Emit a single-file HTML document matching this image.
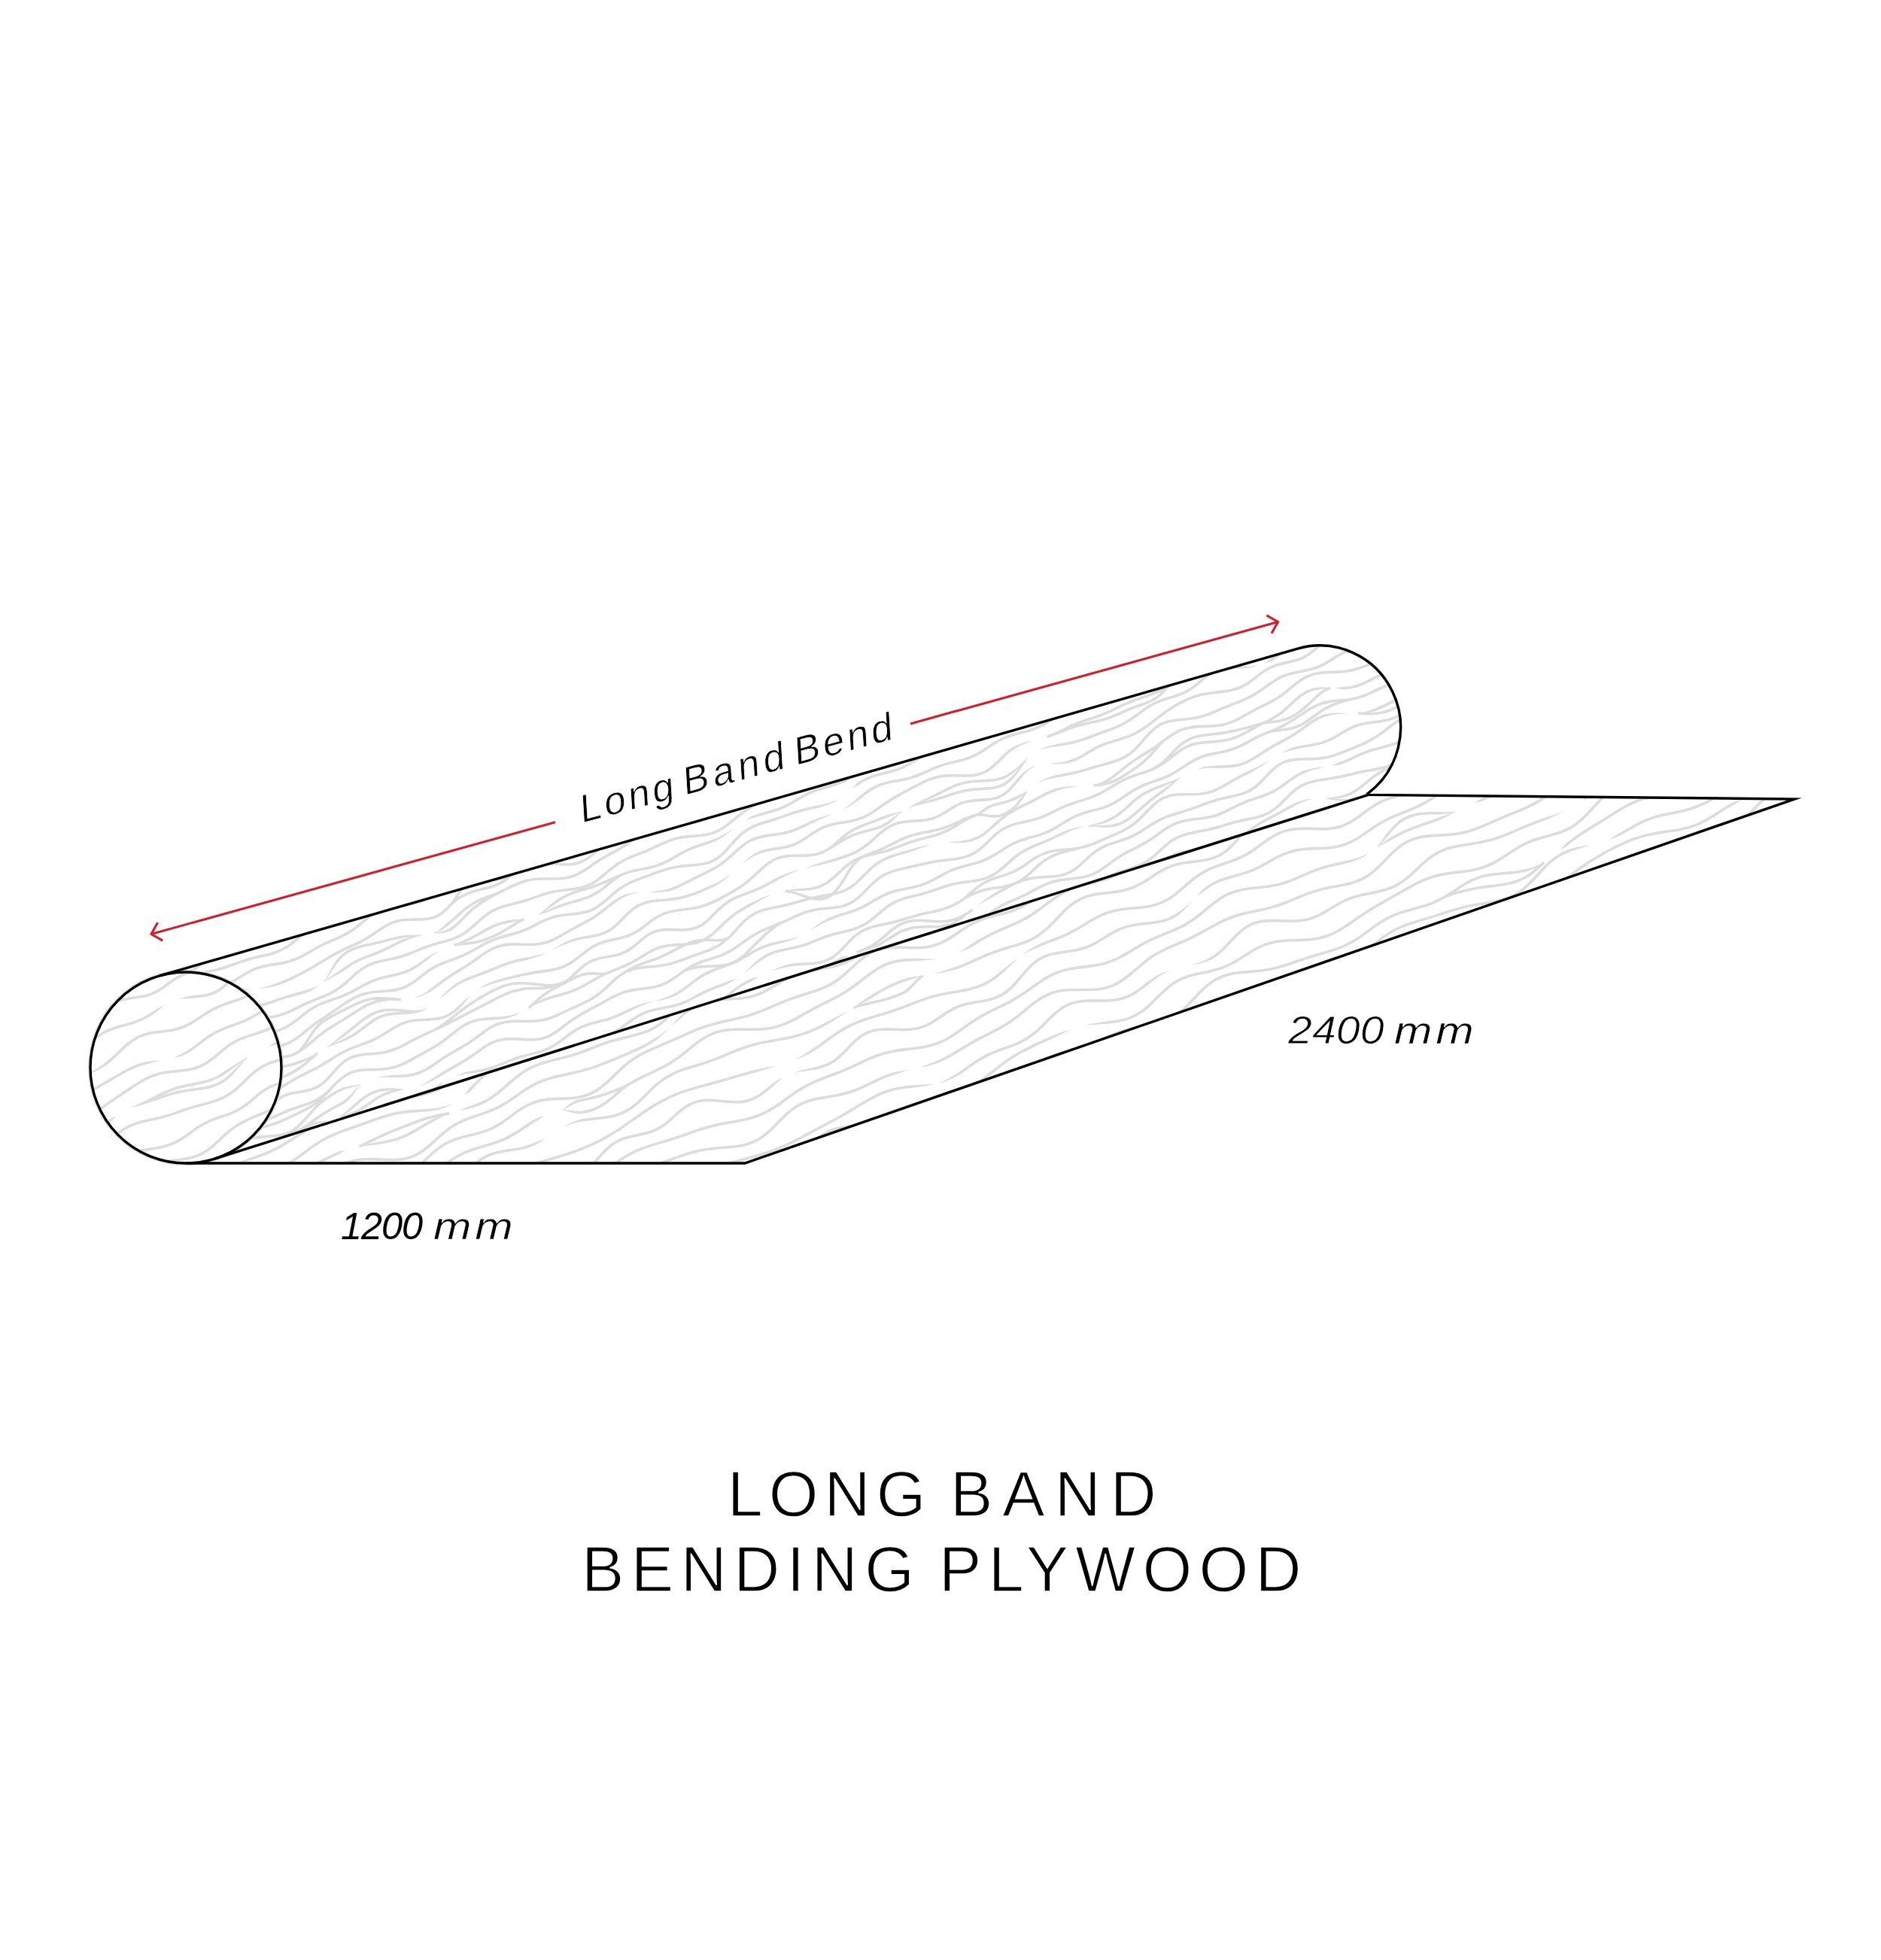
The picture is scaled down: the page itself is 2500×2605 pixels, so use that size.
<!DOCTYPE html>
<html><head><meta charset="utf-8"><style>
html,body{margin:0;padding:0;background:#fff;}
body{width:2500px;height:2605px;overflow:hidden;}
svg{display:block;}
text{font-family:"Liberation Sans",sans-serif;fill:#000;}
</style></head><body>
<svg width="2500" height="2605" viewBox="0 0 2500 2605">
<defs>
<clipPath id="cr"><path d="M211.9,1296.9L1724.7,862.1A107.5,109 0 0 1 1817.7,1054.8L1818.7,1056.4L285.3,1540.1A127,127 0 0 0 211.9,1296.9Z"/></clipPath>
<clipPath id="cs"><path d="M285.3,1540.1L1818.7,1056.4L2385,1062L990,1546L247,1546A127,127 0 0 0 285.3,1540.1Z"/></clipPath>
<clipPath id="cc"><circle cx="247" cy="1419" r="127"/></clipPath>
</defs>
<rect width="2500" height="2605" fill="#fff"/>
<g fill="#dcdcdc">
<path clip-path="url(#cr)" d="M239.2 1301.6l8.3-4.2 7.9-5.1 7.7-5.4 7.6-5.5 7.8-5.2-2.1-3-7.7 5.3-7.7 5.5-7.6 5.3-7.7 4.9-8.1 4.2zM249.6 1300.8l8.5-3.4 8.9-2.3 9.2-1.9 9.3-1.8 9.2-2.3 8.9-2.9 8.8-3.2 8.6-3.2 8.8-2.9 8.9-2.4 9.2-2 9.2-2.1 9.1-2.6 8.7-3.7 8.3-4.7 7.8-5.6 7.5-6 7.6-5.6 7.8-4.9-1.9-3.1-8 5-7.7 5.8-7.5 5.9-7.6 5.5-7.9 4.5-8.3 3.5-8.8 2.5-9.1 2.1-9.3 2-9.1 2.4-8.9 3-8.7 3.2-8.6 3.2-8.8 2.8-9 2.3-9.2 1.8-9.3 1.8-9.2 2.5-8.7 3.5zM295.2 1313.1l8.4-3.6 8.1-4.3 7.8-4.8 7.8-4.8 7.8-4.2 8.2-3.3 8.6-2.4 9.1-1.6 9.2-1.4 9.2-1.8 9-2.4 8.6-3.4 8.1-4.2 8-4.6 7.8-4.5 8-4.2 8.1-3.8 8.3-3.5 8.3-3.6 8.2-4.3 7.9-5 7.5-5.6-2.2-2.9-7.4 5.6-7.6 4.8-7.9 4.1-8.2 3.6-8.4 3.6-8.2 3.8-8.1 4.2-7.9 4.6-7.9 4.5-7.9 4.1-8.3 3.3-8.6 2.3-9 1.7-9.2 1.4-9.3 1.7-8.9 2.5-8.6 3.4-8.1 4.4-7.8 4.8-7.8 4.8-7.9 4.2-8.2 3.5zM477.2 1231.7l7.3-6 7.4-5.8 7.5-5 8-3.8 8.6-2.6 9-1.7 9.4-1.3 9.4-1.4 9.2-2.1 8.8-2.9 8.5-3.6 8.2-4-1.5-3.3-8.2 4-8.3 3.5-8.5 2.9-8.9 2-9.2 1.4-9.5 1.2-9.3 1.8-9 2.7-8.5 4.1-7.9 5.2-7.4 5.9-7.4 6.1zM303.6 1322.2l8.8-2.9 9.2-1.6 9.6-2.5 0-.3-10-.7-9.7 1.6-9 3zM343.7 1314.1l9.4-.8 9.2-1.7 8.9-2.5 8.5-3.3 8.3-3.8 8.2-4 8.1-4.2 8-4.4 8-4.6 7.8-4.8 7.8-4.7 7.9-4.6 7.9-4.2 8.2-3.9 8.2-3.7 8.3-3.8 8.2-4.3 7.9-4.7 7.7-5.1 7.6-5.2 7.7-4.7 8-3.6 8.6-2.4 9.2-1 9.7-.2 9.9-.1 9.7-1 9.1-2.6 8.3-4.7 7.4-6.4 6.8-7.4-2.7-2.5-6.6 7.3-7 6.1-7.6 4.2-8.4 2.4-9.2 1-9.8 .1-9.9 .2-9.6 1.1-9.1 2.5-8.5 3.8-7.9 4.9-7.7 5.2-7.6 5.1-7.8 4.6-8 4.1-8.2 3.8-8.2 3.7-8.3 4-8.1 4.3-7.9 4.6-7.9 4.7-7.8 4.8-7.8 4.6-8 4.4-8 4.1-8.1 3.9-8.2 3.7-8.4 3.4-8.4 3.2-8.7 2.7-9.1 2.1zM602 1201.9l6-4.9 6.4-4 6.6-3.2 7-2.7 7.1-2.2 7.4-1.9 7.6-1.8 7.4-2.2 7.2-3 6.8-4.1 6.3-4.9 6-5.2-2.4-2.7-5.9 5.2-6.1 4.7-6.3 3.8-6.8 2.8-7.2 2.2-7.4 1.7-7.5 1.9-7.4 2.3-7.2 2.8-7 3.4-6.7 4.1-6.2 5.1zM602.4 1201.5l5-7.6 5-7.3 5.3-6 6-4.2 6.7-2.4 7.5-1.2 7.9-.6 8-.6 8-1 7.7-1.9 7.3-2.9 6.7-3.8-1.8-3.1-6.5 3.7-6.8 2.7-7.2 1.7-7.7 1-8 .6-8 .6-8 1.3-7.5 2.7-6.7 4.7-5.8 6.5-5.1 7.5-5 7.6zM683.6 1161.9l6.1-4.1 6.2-3.6 6.4-2.9 6.8-2 7.3-.9 7.7 .1 8.1 .7 8.4 .9 8.3 .7 8.1 0 7.7-1.1 7.3-2.1 6.8-3.3 6.3-4.2 6-4.9 5.7-5.3 5.6-5.4 5.7-5.2 5.6-5 5.9-4.7 5.9-4.3 6.1-4 6.3-3.5-1.7-3.2-6.4 3.6-6.3 4.1-6.1 4.5-6 4.7-5.8 5.1-5.6 5.3-5.6 5.4-5.6 5.2-5.8 4.7-6 4-6.3 3-6.7 2-7.3 1-7.7 0-8.1-.7-8.3-.9-8.3-.7-8.1-.1-7.8 1-7.3 2.1-6.8 3.1-6.5 3.8-6.2 4.1zM333.2 1340.3l9.6-1.5 9.3-2.3 9-2.8 8.8-3.1 8.9-3 8.9-2.6 9.1-2.5 9.1-2.6 8.8-3.4 7.7-5.8-.2-.2-8.8 2.9-8.7 3.1-8.9 2.5-9.1 2.5-9 2.7-8.9 3-8.8 3.1-8.9 2.7-9 2.2-9.4 1.6zM430.4 1304.8l6.5-3.3 6.5-3.4 6.5-3.6 6.4-3.7 6.1-4.1 6.1-4.1 6.3-3.5 6.4-3 6.7-2.6 6.8-2.6 6.8-2.6 6.8-2.9 6.6-3.2 6.5-3.3 6.4-3.3 6.6-3.1 6.5-2.9 6.7-2.6 7-2.2 7.2-1.9 0-.2-7.5 .8-7.3 1.4-7.1 1.9-7 2.4-6.6 3.2-6.5 3.3-6.5 3.3-6.5 3.1-6.6 2.8-6.8 2.7-6.8 2.5-6.8 2.7-6.7 3.1-6.5 3.7-6.2 4.1-6.1 4.1-6 4.2-6 4.2-6.1 4.1-6 4.3zM430.4 1304.8l5.5-6.3 5.1-7.4 5-7.3 4.9-6.8 5.2-5.6 5.8-4.3 6.2-3.3 6.6-2.5 6.9-2 7.1-1.7 7.3-1.5 7.2-1.7 7.2-1.8 7.1-1.8 7.1-1.7 7.2-1.6 7.2-1.5 7.5-1.1 7.6-.9 7.7-1 0-.3-7.8-.1-7.7 .1-7.7 .4-7.5 .9-7.3 1.5-7.2 1.8-7.1 1.9-7.1 1.7-7.2 1.6-7.2 1.6-7.3 1.7-7.1 2.1-7 2.7-6.7 3.5-6.2 4.6-5.6 6.1-4.8 7.2-4.3 7.9-4.3 7.8-4.5 6.9zM576.8 1240.6l7.7-.1 7.7-1 7.2-2.6 6.3-4.5 5.9-5.3 5.6-5.6 5.5-5.6 5.6-5.3 5.8-4.7 6-4.3 6.2-3.9 6.3-3.6 6.4-3.5 6.5-3.4-1.6-3.2-6.6 3.4-6.4 3.5-6.5 3.7-6.3 4-6.2 4.4-6 4.9-5.7 5.4-5.6 5.6-5.5 5.6-5.6 5.1-5.9 4.2-6.3 3-7 1.9-7.5 1.6zM576.9 1240.5l6.9-2.6 6.5-4 6.2-4.5 5.9-4.9 5.8-5.1 5.7-5.1 5.8-5 5.9-4.4 6.2-3.8 6.4-3.2 6.6-2.8 6.8-2.6 6.9-2.5 6.9-2.7-1.4-3.3-6.7 2.7-6.9 2.5-6.9 2.5-6.8 2.9-6.7 3.4-6.4 3.9-6.2 4.6-5.8 5.1-5.8 5.1-5.7 5.1-5.9 4.8-5.6 5.1-5.7 4.7-6.2 3.9zM665.5 1187.2l8.4-4.1 8.5-4.1 8.5-3.8 8.7-2.9 9.2-1.8 9.8-.7 10.1 0 10.3 0 10.2-.7 9.7-1.9 9-3.5 8.5-4.6 8-5.4 7.9-5.4 7.9-5.2 8.2-4.7 8.3-4.5 8.3-4.6 8.1-5 8-5.5 7.7-5.8-2.1-2.9-7.7 5.7-7.8 5.5-8.1 4.9-8.2 4.6-8.3 4.5-8.2 4.8-8.1 5.2-7.9 5.4-7.9 5.3-8.1 4.5-8.5 3.2-9.2 1.8-9.8 .7-10.2 0-10.3 0-10 .7-9.7 1.9-9.1 3.1-8.8 3.8-8.4 4.2-8.5 4.1zM900.5 1096.7l9.9-.3 9.7-1 9.4-2 8.8-3.1 8.5-3.8 8.2-4.2-1.6-3.2-8.2 4.1-8.2 3.8-8.5 2.9-8.9 2-9.4 .9-9.8 .3zM343.2 1355.9l9.4-1.1 9.3-1.3 9.1-2 8.8-2.9 8.4-3.7 8.1-4 8-4 8.2-3.7 8.3-3.4 8.4-3.2 8.4-3.6 8.2-4.3 7.7-5.2 7.4-6 7.1-6.5 7-6.3 7.2-5.5 7.6-4.5 8.2-3.3 8.6-2.3 9-1.8 9-1.9 9-2.3 8.6-2.9 8.5-3.4 8.3-3.5 8.3-3.2 8.5-2.9 8.7-2.4 8.8-2.3 8.8-2.7 8.5-3.6 8.1-4.7 7.5-5.7 7.2-6.3 7-6.4 7.2-5.9-2.3-2.8-7.3 5.9-7 6.5-7.1 6.2-7.2 5.5-7.7 4.5-8.1 3.4-8.5 2.6-8.8 2.3-8.8 2.5-8.7 2.9-8.5 3.3-8.3 3.5-8.3 3.3-8.5 2.8-8.7 2.3-9 1.8-9 1.9-9 2.4-8.5 3.5-8.1 4.7-7.5 5.8-7.2 6.4-7 6.3-7.1 5.9-7.5 5-7.8 4.1-8.2 3.5-8.4 3.3-8.4 3.4-8.3 3.7-8.1 4.1-8.1 3.9-8.1 3.6-8.4 2.8-8.8 1.9-9.2 1.3-9.3 1.1zM647.5 1217.3l7.5-4.9 8-3.7 8.4-2.8 8.8-2.3 8.9-2.2 8.8-2.5 8.7-2.8 8.5-3 8.6-2.9 8.6-2.4 9-1.7 9.2-1.3 9.4-1 9.3-1.4 9-2.4 8.6-3.7 7.9-4.8-1.9-3.1-7.7 4.7-8 3.5-8.6 2.2-9.1 1.4-9.4 1.1-9.3 1.2-9.2 1.8-8.9 2.5-8.6 2.9-8.6 3-8.5 2.8-8.7 2.4-8.9 2.2-8.9 2.3-8.7 2.9-8.4 4-7.8 5zM794.8 1171.3l7.6-5.9 7.3-6.3 7.4-5.9 7.6-5.3 8-4.3 8.4-3.6 8.5-3.4 8.7-3.4 8.5-3.7 8.3-3.9 8.4-3.9 8.4-3.4 8.7-2.5 9.2-1.6 9.6-1 9.7-.7 9.7-1.3 9.3-2.4 8.7-3.8 8.1-5 7.6-5.9 7.4-6.2 7.5-5.9 7.6-5.3 7.9-4.7 8.1-4.5 8.1-4.6-1.8-3.1-8.1 4.5-8.1 4.6-8 4.8-7.9 5.4-7.5 6-7.4 6.2-7.5 5.7-7.7 4.9-8.2 3.5-8.8 2.3-9.4 1.2-9.7 .7-9.7 1-9.5 1.7-9.1 2.6-8.7 3.5-8.4 3.9-8.3 4-8.4 3.6-8.6 3.4-8.6 3.3-8.6 3.8-8.3 4.5-7.9 5.4-7.5 6.1-7.3 6.2-7.5 5.9zM354.7 1375.6l8.9-2.2 8.8-2.8 8.5-3.7 7.9-4.8 7.6-5.6 7.3-5.9 7.3-5.6 7.6-4.9 7.9-4 8.3-3.2 8.5-2.9 8.6-3 8.5-3.4 8.2-3.9 8-4.4 8-4.4 7.9-4 8.3-3.2 8.6-2.6 8.9-2 9-2 8.9-2.5 8.6-3.4 8.1-4.4 7.7-5.2 7.3-5.7 7.2-5.8 7.4-5.4-.2-.2-8.2 4-7.9 4.9-7.6 5.3-7.6 5-7.8 4.3-8.2 3.2-8.6 2.4-8.9 2-9 2-8.9 2.7-8.5 3.3-8.2 4.1-8 4.5-7.9 4.3-8 3.8-8.3 3.4-8.5 2.9-8.7 2.9-8.5 3.3-8.2 4.2-7.8 5.1-7.5 5.7-7.3 5.8-7.4 5.5-7.6 4.6-8 3.6-8.5 2.7-8.9 2.1zM603.5 1256l9.7-2.4 9.5-3.1 9-4.4 8.7-4.9 8.6-4.9 8.7-4.2 9.2-3.3 9.6-2.2 9.9-2.2 9.9-2.7-.1-.2-10.2 .6-10.2 1-9.9 2.3-9.6 3.3-9 4.4-8.7 4.9-8.6 4.9-8.8 4.3-8.8 4.3-9 4.2zM603.7 1257.6l7.2-.9 7.4-.6 7.4-.8 7.3-1.2 7.1-1.8 6.8-2.3 6.7-2.7 6.5-2.9 6.3-3.2 6.3-3.6 6.1-3.8 6-3.8 6-3.7 6.3-3.1-1.6-3.2-6.4 3.2-6.2 3.7-6 3.9-6.1 3.7-6.1 3.5-6.2 3.2-6.4 2.8-6.4 2.6-6.6 2.3-6.8 1.7-7 1.1-7.3 .8-7.5 .6-7.3 1zM715.4 1215.9l6.9-2 6.8-2.2 6.7-2.4 6.7-2.5 6.7-2.5 6.7-2.2 6.9-1.9 7-2 6.9-2.1 6.9-2.6 6.6-3.1 6.3-3.8 6.1-4.3 5.9-4.7 5.7-4.7 5.7-4.4 6.1-3.9-1.9-3-6.2 3.9-6 4.6-5.7 4.7-5.8 4.6-5.8 4.2-6.1 3.6-6.3 3-6.6 2.4-6.8 2.1-7 2-6.9 2-6.9 2.2-6.8 2.5-6.6 2.9-6.4 3.1-6.5 3.1-6.5 3.2zM715.4 1215.9l6.5-3.2 6.2-4.1 6.1-4.3 5.9-4.3 5.9-4 6.2-3.4 6.4-2.8 6.6-2.4 6.9-2.1 6.9-2 6.9-2.1 6.9-2.4 6.7-2.7 6.6-2.9 6.5-2.9 6.5-2.8 6.6-2.7-1.3-3.3-6.7 2.7-6.6 2.8-6.5 3-6.5 2.8-6.6 2.7-6.7 2.3-6.8 2.1-7 2-6.9 2.1-6.9 2.4-6.6 3-6.5 3.6-6.1 4.1-5.8 4.6-5.6 4.9-5.6 4.8-5.8 4.3zM825.7 1164.8l8.7-3.5 9-2.4 9.5-1.9 9.5-1.8 9.4-2.4 9.1-3.3 8.6-4.2 8.3-4.8 8.3-4.7 8.3-4.3 8.6-3.6 8.9-3.1 9-2.9 9-3.3 8.5-4.6 7.9-5.4 7.5-6.2-.1-.3-8.3 5.1-8.3 4.4-8.6 3.7-8.8 3.2-9 2.9-9 3.1-8.8 3.7-8.6 4.4-8.2 4.8-8.2 4.7-8.4 4.1-8.7 3.2-9.2 2.3-9.4 1.8-9.6 1.9-9.3 2.5-8.9 3.6zM991.8 1090.2l8.6-2.7 8.5-2.7 8.8-2.4 8.8-2.4 8.8-2.9 8.5-3.5 8.1-4.3 7.9-4.6 7.8-4.6 8-4.1 8.2-3.4 8.6-2.7 8.7-2.5 8.8-2.6 8.7-3.2 8.2-4.1 7.9-4.9 7.7-5.2-2-3-7.6 5.2-7.7 4.7-8 4-8.3 3.1-8.7 2.6-8.8 2.4-8.7 2.8-8.5 3.5-8.2 4.2-7.9 4.7-7.8 4.6-8 4.1-8.2 3.5-8.5 2.7-8.8 2.4-8.9 2.5-8.5 3.4-7.7 5.2zM357.7 1393.2l9.9-.5 9.5-1.9 8.8-3.5 8.1-5 7.6-5.8 7.4-6 7.4-5.9 7.6-5.5 7.7-5.2 7.8-5.1 7.8-5.2 7.7-5.3 7.7-5.2 7.8-4.7 8.1-3.8 8.6-2.7 9.1-1.6 9.5-.8 9.7-.7-.2-3.6-9.8 .7-9.7 .8-9.5 1.7-9 2.8-8.5 4-8.1 4.9-7.7 5.2-7.8 5.3-7.7 5.2-7.8 5.1-7.8 5.2-7.6 5.6-7.5 6-7.4 6-7.4 5.6-7.8 4.7-8.2 3.3-8.9 1.8-9.6 .5zM515.6 1318.8l9.5-1.1 9.1-2.3 8.6-3.7 8-5 7.5-5.6 7.3-5.8 7.5-5.2 7.7-4.5 8.1-3.6 8.5-3.2 8.5-3.1 8.5-3.4 8.3-3.9 8-4.3 7.9-4.6 8-4.2 8.1-3.7 8.4-3.1 8.7-2.5 8.8-2.4 8.8-2.6 8.6-3.2 8.4-3.8 8.1-4.2 8-4 8.2-3.5 8.5-2.6 9-1.6 9.4-1-.4-3.6-9.5 1.1-9.3 1.6-8.9 2.7-8.5 3.6-8.2 4.1-8 4.1-8.2 3.7-8.3 3.2-8.7 2.5-8.8 2.4-8.8 2.6-8.7 3.1-8.3 3.8-8.1 4.4-7.9 4.5-7.9 4.3-8.1 3.8-8.4 3.4-8.5 3-8.5 3.2-8.4 3.8-8.1 4.6-7.6 5.5-7.4 5.7-7.4 5.6-7.6 4.7-8 3.5-8.7 2.1-9.2 1.2zM757.5 1217.1l9.5-.9 9.4-1.6 8.9-2.7 8.3-4.2 7.7-5.4 7.3-6.2 7.1-6.2 7.2-5.9 7.5-5 7.8-4.2 8.2-3.5 8.4-3.2 8.5-3 8.5-3.1 8.5-3 8.5-2.7 8.8-2 9.1-1.4 9.4-.9 9.5-.7 9.5-1.3 9-2.5 8.5-4.1 7.6-5.8 7-7 6.6-7.5 6.6-7.4 6.8-6.5 7.3-5.3 7.8-4 8.3-3.2 8.6-2.7 8.7-2.6 8.7-2.8 8.5-3 8.5-3 8.6-2.7 8.7-2.4 8.9-2 9-2 8.9-2.7 8.4-3.6 7.8-4.7-.2-.3-8.3 3.5-8.5 2.6-8.9 1.9-8.9 1.8-9 2-8.9 2.4-8.7 2.8-8.6 3-8.5 3-8.6 2.8-8.7 2.6-8.7 2.7-8.6 3.3-8.2 4.3-7.7 5.5-7.1 6.8-6.7 7.5-6.5 7.5-6.7 6.7-7.2 5.4-7.8 3.9-8.5 2.3-9.1 1.2-9.5 .8-9.5 .8-9.4 1.4-9 2.2-8.8 2.7-8.5 3-8.5 3.1-8.5 3.1-8.5 3.2-8.4 3.6-8.2 4.3-7.7 5.2-7.4 6-7.1 6.3-7.2 6-7.3 5.2-7.9 3.9-8.4 2.6-9 1.5-9.3 .9zM1133.1 1047.7l8.4-4.4 7.5-4.9 8-3.7 8.5-2.8 8.9-2.1 9-2.2 8.9-2.6 8.5-3.5 8.2-4.3 7.9-4.7 7.8-4.7 8-4.1 8.3-3.4-1.4-3.3-8.4 3.4-8.2 4.3-7.9 4.7-7.9 4.7-7.9 4.1-8.2 3.4-8.6 2.5-9 2.2-9 2.2-8.8 2.8-8.4 4-7.9 5.1-6.5 7.1zM360.2 1408.2l9.7-.5 9.5-1.2 9.1-2.4 8.4-3.8-1.5-3.3-8.1 3.7-8.6 2.3-9.1 1.1-9.6 .5zM397.2 1400.1l12.8-9.2 12.2-10.6 12.5-9.6 13-8.3 13.3-8 13.1-8.5 13.1-7.9 14-5.4 15.4-2.7 16.5-1.3 0-.3-16.6-.7-16.2 1.5-14.7 5.6-13.4 8.2-13.1 8.5-13.3 8-13.2 8.3-12.7 9.8-12.1 10.6-12.7 9.1zM397.5 1399.9l5.5-5.8 5.1-7.2 4.8-7.4 4.8-7.1 5-6.3 5.5-5.3 5.9-4.1 6.3-3.7 6.4-3.4 6.6-3.3 6.5-3.3 6.5-3.3 6.6-3.1 6.6-2.9 6.7-2.4 7.1-1.7 7.3-.9 7.8-.2 8 .5 8.3 .8 8.2 .5 .2-3.6-8.1-.5-8.3-.8-8.3-.5-8 .2-7.8 .9-7.4 1.8-7 2.5-6.8 3-6.7 3.2-6.5 3.3-6.6 3.3-6.5 3.3-6.5 3.5-6.5 3.8-6.3 4.4-5.8 5.5-5.3 6.6-4.9 7.3-4.8 7.4-4.8 6.9-5.4 5.6zM551.5 1326.3l8.9-2.4 8.4-4 8-5 7.6-5.6 7.5-5.6 7.6-5.2 7.8-4.8 7.9-4.8 7.8-4.9 7.8-5.3 7.5-5.5 7.6-5.3 7.7-4.6 8.2-3.5 8.7-2.1 9.3-.9 9.9 .1 10.1 .4 10-.1 9.7-1.1 9.2-2.4 8.6-3.6 8.1-4.4 8-4.6 8-4.5 8-4.4 8.1-4.2 8.1-4.5 7.9-5 7.6-5.6 7.4-5.9 7.4-5.8 7.5-5.2 7.8-4.4 8.4-3.1 9.2-2 0-.3-9.5 .7-9.1 2.2-8.6 3.8-7.8 5.4-7.5 5.9-7.4 5.9-7.4 5.4-7.7 4.9-8 4.4-8.1 4.3-8.1 4.3-8 4.6-7.9 4.6-8 4.2-8.2 3.5-8.7 2.3-9.2 1-9.8 .1-10-.4-10.1-.1-9.8 .9-9.3 2.3-8.6 3.7-8.1 4.8-7.6 5.4-7.6 5.5-7.6 5.2-7.8 4.8-7.9 4.8-7.9 4.9-7.7 5.3-7.6 5.6-7.4 5.7-7.3 5.6-7.7 4.7-8.4 3.7zM863.1 1185.9l9.7 .3 9.5-.6 9.3-1.7 8.6-3.2 8.3-3.9 8.1-4.2 8-4.2 8.1-4 8.2-3.9 8.1-4.2 7.9-4.7 7.7-5.6 7.2-6.2 7.1-6.5 7.1-6.2 7.2-5.5 7.8-4.2 8.3-2.9 8.9-1.8 9.2-1.3 9.3-1.3 9.2-1.9 8.9-2.7 8.5-3.4 8.2-3.9 8.1-3.9 8.1-4 8.2-3.7 8.3-3.7-.1-.3-8.8 2.4-8.6 2.8-8.5 3.3-8.2 3.9-8.2 3.8-8.2 3.3-8.6 2.6-8.9 1.8-9.2 1.3-9.4 1.3-9.2 2-8.8 3.1-8.2 4.4-7.6 5.7-7.2 6.3-7 6.5-7.2 6.1-7.3 5.3-7.8 4.7-7.9 4.1-8.2 3.9-8.1 4-8.1 4.2-8 4.2-8.1 3.8-8.3 3.1-8.6 2.5-9.2 1.5-9.7 1.1zM1120.2 1076.1l8.3-4 7.9-5 7.6-5.6 7.3-5.9 7.5-5.2 7.8-4.2 8.3-3 8.8-2.1 9.1-1.7 9.2-1.7 9-2.3 8.8-2.9 8.4-3.6 8.3-3.7 8.3-3.6 8.4-3 8.7-2.5 8.9-2.1 9-2.2 8.8-2.8 8.5-3.7 8.1-4.6 7.8-5.1 7.6-5.1 7.7-4.7 8-3.8 8.4-3 8.8-2.4-.9-3.4-8.9 2.4-8.7 3.1-8.4 4-7.9 4.8-7.7 5.1-7.7 5.1-7.8 4.4-8.1 3.5-8.6 2.7-8.8 2.2-9 2.2-8.9 2.5-8.7 3.1-8.4 3.6-8.2 3.7-8.3 3.5-8.5 2.9-8.8 2.2-9 1.7-9.3 1.6-9 2.2-8.8 3.2-8.2 4.4-7.8 5.4-7.3 6-7 6.3-7.2 5.7-7.5 5.2zM1353.5 976.6l9.1-2.2 9.1-2.7 8.8-3.4 8.4-4.2 8.1-4.8 8-4.7 8.2-4.3-1.7-3.2-8.3 4.3-8 4.8-8 4.7-8.2 4.1-8.5 3.3-8.8 2.6-9.1 2.2zM312.7 1446.2l11.5-3.3 10.9-5.1 10.2-6.2 10.4-5.4 11-4.1 11.5-3 11.7-2.9 11.5-3.8 10.6-5.7 9.9-6.7-.1-.3-10.8 5.1-10.9 4.2-11.2 3.7-11.6 2.9-11.7 3.1-11.3 4.2-10.7 5.5-10.3 6.3-10 6.2-10.7 5.1zM312.6 1447.9l8.1 .3 8.4 .5 8.2-.2 7.8-1.2 7.3-2.3 6.9-3.3 6.6-3.3 6.7-3.2 6.7-3.1 6.7-3.3 6.7-3.6 6.4-4.1 6.2-4.6 6-5.1 5.8-5.2 5.9-5-2.3-2.7-5.9 5-5.9 5.2-5.8 5-6 4.4-6.3 4-6.4 3.5-6.6 3.2-6.8 3.1-6.7 3.2-6.6 3.4-6.6 3.1-6.8 2.2-7.3 1.1-7.8 .2-8.3-.5-8.2-.3zM435.2 1392l6.6-2.6 6.7-2.3 6.7-2.4 6.7-2.7 6.4-3.4 6.2-3.9 5.9-4.3 5.8-4.6 5.8-4.4 5.8-4 6.1-3.4 6.3-2.5 6.8-1.7 7.2-.9 7.4-.4 7.7-.2 7.6-.7 7.4-1.4 6.9-2.3 6.3-3.3-.1-.3-6.7 2.3-6.9 1.4-7.2 .6-7.5 .1-7.6 .2-7.7 .4-7.5 1-7.2 1.7-6.8 2.8-6.4 3.5-6.1 4.2-5.8 4.5-5.8 4.5-5.8 4.3-5.9 3.7-6.2 3.3-6.3 3.2-6.3 3.1-6.4 3.1-6.3 3.5zM435.2 1392l6.2-3.8 6.1-4 6.1-4.1 6-4.2 5.8-4.6 5.8-4.6 5.7-4.6 5.8-4.4 5.8-4.2 6-3.6 6.2-2.9 6.6-1.9 7.1-.9 7.5-.2 7.8 .5 8 .7 8.1 .2 7.8-.5 7.3-1.5 6.6-2.8-.1-.3-6.8 1.8-7.2 .6-7.5-.2-7.9-.8-8-.8-8-.5-7.9 .2-7.5 1-7.2 2.1-6.6 3-6.3 3.8-6 4.3-5.8 4.5-5.8 4.6-5.7 4.6-5.8 4.6-5.6 4.7-5.6 4.7-5.6 4.6-5.6 4.6zM585 1327.5l7.9-6.6 7.8-6.1 8-5.3 8.3-4.4 8.6-3.7 9-3.4 8.9-3.3 8.9-3.5 8.8-3.7 8.9-3.4 9-3 9.2-2.5 9.4-2.1 9.4-2.6 9.2-3.2 8.8-4-.1-.2-9.2 2.6-9.3 2.1-9.6 1.8-9.5 2.1-9.4 2.5-9.1 3.1-9 3.5-8.8 3.6-8.9 3.5-8.9 3.4-9 3.3-8.9 3.8-8.6 4.7-7.9 6-7.2 7.1-6.9 7.6zM734.5 1262.3l8.4-3.7 8.5-3.6 8.5-2.9 8.8-2.5 9.1-1.8 9.3-1.6 9.3-2 8.9-3.3 8.3-4.7 7.6-6.2 7.1-7 6.9-7.1 7.1-6.2 7.6-4.9 8.2-3.4 8.9-1.9 9.4-1 9.7-.8 9.7-1 9.4-1.7 9.1-2.4 8.8-3 8.6-3.4 8.5-3.6 8.5-3.9 8-4.7 7.7-5.4 7.1-6.4-.2-.2-7.9 5.2-8 4.5-8.3 3.9-8.3 3.7-8.4 3.6-8.5 3.3-8.7 2.9-8.8 2.4-9.2 1.6-9.4 1.1-9.7 .7-9.7 1.1-9.4 2-8.8 3.6-8.1 5.2-7.4 6.5-7 7.2-6.9 6.9-7.2 5.8-7.8 4.5-8.4 3-9 2-9.3 1.6-9.3 1.8-9 2.7-8.5 3.8-8.1 4.6-7.9 4.8zM987.5 1147.6l7.7-5.5 7.8-4.6 8.2-3.3 8.6-2.4 9.1-1.6 9.3-1.4 9.2-1.8 8.9-3 8.4-4 7.9-5 7.6-5.3 7.6-4.8 8-4 8.4-2.9 8.9-1.9 9.2-1.4 9.3-1.6 9-2.3 8.7-3.4 8.2-4.3 7.8-5.1 7.6-5.4 7.6-5.3 7.7-4.9 7.8-4.5 8-4.4 8-4.2 8.1-4.2 8.1-4.1 8.2-3.5 8.4-2.8 9-1.6 9.4-.6 9.8 .1 10.1 .2 9.9-.4 9.4-1.8 8.8-3.6 7.9-5.3 7.2-6.6 6.9-6.9 6.9-6.5 7.3-5.6 7.6-4.6 8.2-3.6 8.7-3-.1-.3-9.1 1.8-8.8 2.8-8.4 4-7.7 5.7-7.1 6.7-6.9 6.9-7 6.3-7.4 5.1-8 3.3-8.8 1.7-9.5 .3-10-.2-10-.1-9.8 .6-9.3 1.8-8.9 2.8-8.5 3.7-8.2 4.1-8 4.2-8.1 4.3-8 4.3-8 4.6-7.8 5-7.6 5.3-7.6 5.4-7.6 5-7.9 4.2-8.3 3.1-8.7 2.2-9.1 1.6-9.3 1.5-9.2 2-8.8 3-8.3 4.1-7.9 5-7.6 5.3-7.7 4.8-7.9 3.9-8.5 2.8-8.9 1.8-9.3 1.3-9.3 1.7-9 2.6-8.3 4.2-7.5 5.6-6.9 6.7zM1391.4 979.3l17.1-6.3 16.6-7.2 16.8-6.4 17.4-5.5 16.9-6.8 16.3-8 16.6-7.1 17.3-5.6 17-7.1 15-11.6-2.2-2.8-14.6 11.3-16.5 6.8-17.3 5.6-16.8 7.2-16.2 8-16.7 6.7-17.3 5.5-17.1 6.5-16.1 8.5-16.3 8zM1392 980.8l6.9-2.3 6.8-2.5 6.8-2.6 6.8-2.6 6.7-2.4 6.9-2.1 7.1-1.8 7.1-1.7 7.2-1.5 7.3-1.7 7.1-2 7-2.3 6.8-2.7 6.7-2.9 6.6-2.9 6.6-2.9 6.7-2.6 6.8-2.4 7-2.4 6.8-2.9 6.5-3.6 6.2-4.6 5.7-5.4 5.4-6.2 5.2-6.4-2.8-2.2-5.2 6.3-5.2 6-5.4 5.2-5.8 4.2-6.2 3.5-6.5 2.8-6.9 2.3-6.8 2.4-6.8 2.7-6.7 2.9-6.7 2.9-6.6 2.9-6.7 2.6-6.8 2.3-6.9 1.9-7.2 1.7-7.2 1.5-7.2 1.7-7.1 1.8-7.1 2.2-6.9 2.4-6.8 2.6-6.7 2.7-6.8 2.4-6.9 2.3zM355.4 1456.8l8.4-3.6 8.1-4.6 7.9-4.9 7.7-4.9 7.9-4.6 8-4.1 8.2-4 8.2-4.2 8.1-4.4 7.9-4.8 7.8-5 7.7-4.7 8-4.3 8.2-3.7 8.4-3.2 8.6-3.1 8.6-3.3 8.4-3.8 8.1-4.5 7.8-5 7.7-4.9 7.9-4.2 8.3-3.1 8.9-1.8 9.4-.9 9.7-.3 9.8-.8 9.3-1.9 8.8-3.6 8-5.3 7.2-6.6 6.4-7.6 6.3-7.6-.2-.2-7.6 6.3-7.3 6.6-7.1 6.3-7.4 5-8.1 3.3-8.8 1.8-9.5 .7-9.7 .4-9.7 .8-9.4 2-8.7 3.3-8.3 4.3-7.8 5-7.8 4.9-7.8 4.4-8.2 3.7-8.4 3.2-8.6 3.1-8.6 3.3-8.4 3.8-8.2 4.4-7.9 4.8-7.7 4.9-7.8 4.8-8 4.3-8.1 4.1-8.2 4.1-8.1 4.2-8 4.6-7.9 4.9-7.7 5-7.8 4.4-8.3 3.5zM635.5 1315.1l8.2-3.9 8.6-3 8.7-2.4 8.9-2.3 9-2.3 8.9-2.2 9-2 9.1-1.8 9.3-1.5 9.4-1.3 9.3-1.5 9.2-2.2 8.8-3.3 8.2-4.5 7.8-5.5 7.4-5.9 7.4-5.7 7.6-4.9 8.1-3.7 8.6-2.6 9-2 9.1-2 9-2.6 8.6-3.7 8.1-4.9 7.6-5.7 7.4-5.7 7.6-5.2 7.9-4.1 8.4-2.9 9-1.8 9.3-1.2-.5-3.6-9.4 1.3-9.3 1.9-8.9 3-8.4 4.3-7.8 5.4-7.5 5.8-7.4 5.5-7.7 4.7-8.2 3.5-8.6 2.5-9.1 2-9.1 2-9 2.7-8.5 4-8 5-7.5 5.8-7.4 5.9-7.5 5.3-7.8 4.3-8.4 3.1-8.8 2.1-9.2 1.5-9.4 1.3-9.3 1.5-9.2 1.8-9.1 2.1-9 2.2-9 2.3-8.9 2.5-8.7 3.2-8.4 4-7.7 5.2zM908 1210.8l9.5-1.2 9.3-1.7 9-2.4 8.7-3.3 8.4-3.8 8.2-4.2 8-4.4 8-4.6 7.9-5 7.7-5.5 7.4-6.1 7.1-6.6 7-6.6 7.2-6 7.5-4.8 8.2-3.3 8.8-1.8 9.5-.5 9.9 0 9.9-.3 9.6-1.4 9-2.9 8.3-4.3-1.7-3.2-8 4.2-8.4 2.7-9.1 1.3-9.6 .3-10 0-9.8 .5-9.5 1.9-8.7 3.6-8 5.1-7.5 6.2-7.1 6.6-7 6.5-7.2 6-7.5 5.4-7.7 4.9-7.9 4.5-8 4.4-8.1 4.1-8.2 3.8-8.4 3.2-8.7 2.3-9.1 1.7-9.3 1.1zM1102.1 1130l6.4-3.8 6.2-4 6.3-3.8 6.3-3.5 6.5-2.9 6.8-2.5 7-2 7.1-1.9 7.2-2 7.1-2.3 6.9-3 6.5-4 5.8-5.1 5.4-5.6 5.4-5.3-.2-.2-6.3 4.2-6.1 4.8-6.1 4.3-6.1 3.7-6.5 2.8-6.9 2.3-7 1.9-7.2 1.9-7.1 2.1-7 2.5-6.8 3.1-6.6 3.6-6.3 3.9-6.2 4-6.3 3.8zM1102.3 1129.9l6-4.6 5.9-5.1 5.7-5 5.8-4.7 6.1-4.1 6.2-3.5 6.6-3 6.8-2.6 6.8-2.5 6.9-2.6 6.8-2.7 6.8-2.6 6.7-2.7 6.9-2.7 6.6-3.2-.1-.2-7.1 1.8-7.1 1.7-7.1 1.9-7 2.6-6.7 2.8-6.8 2.6-6.9 2.5-6.9 2.6-6.8 3.1-6.5 3.6-6.3 4.3-6 4.8-5.8 5.1-5.7 5-6 4.6zM1206.2 1074.5l6.9-2.4 7-1.9 7.1-1.8 7.1-1.6 7.2-1.6 7-2.1 7-2.3 6.9-2.3 6.9-2.3 6.9-2 7.1-1.7 7.3-1.1 7.5-.7 7.7-.5 7.7-.5 7.7-1 7.3-1.8 7-3 6.4-4.3 5.7-5.6 5.1-6.5 4.7-7 4.7-6.9 4.9-6.5-.3-.2-5.6 5.9-5.3 6.5-5.3 6.5-5.3 5.9-5.6 5.1-5.8 3.9-6.4 2.8-6.9 1.7-7.3 .9-7.7 .5-7.7 .5-7.7 .7-7.5 1.2-7.3 1.7-7.1 2.1-6.9 2.3-6.9 2.3-6.9 2.2-7 2.1-7 2.1-7 2.2-7 2.3-6.8 2.7-6.6 3.2zM1206.2 1074.5l6.7-3 6.7-2.9 6.7-2.7 6.7-2.7 6.8-2.7 6.6-3.2 6.5-3.2 6.5-3.3 6.5-3.1 6.6-2.7 6.8-2.2 7-1.5 7.4-1 7.6-.5 7.7-.3 7.8-.5 7.6-1 7.4-1.9 6.9-3 6.4-4.1 5.8-5.1 5.4-5.5 5.3-5.7 5.4-5.6-.2-.2-6 4.9-5.9 5.1-5.8 5-5.9 4.4-6.1 3.6-6.5 2.8-6.8 1.7-7.3 1-7.7 .5-7.7 .3-7.8 .5-7.6 1-7.4 1.7-7.1 2.2-6.8 2.8-6.6 3.2-6.5 3.3-6.5 3.2-6.5 3.1-6.5 3.2-6.6 3.2-6.5 3.3-6.3 3.5-6.3 3.8zM1381.7 996.7l8.7-2.5 9-1.4 9.3-1 9.3-1.5 9.1-2 8.9-2.5 8.7-2.9 8.6-3.2 8.5-3.1 8.6-3.1 8.5-3.2 8.5-3.5 8.2-4.2 7.9-4.8 7.7-5.4 7.5-5.6 7.5-5.2 7.8-4.5 8.1-3.6 8.5-3 8.7-2.6 8.7-2.9 8.5-3.8 8.1-4.8 7.5-5.7 7.3-6 7.3-5.7 7.6-4.6 8.2-3.2 8.9-1.7 9.4-.6 9.8-.5 9.8-1 9.2-2 0-.3-9.4 .7-9.7-.2-9.8-.3-9.8 .6-9.4 1.8-8.8 3.4-8 4.9-7.5 5.8-7.3 6.1-7.4 5.5-7.6 4.6-8.2 3.6-8.5 2.9-8.7 2.6-8.7 3-8.5 3.8-8 4.6-7.7 5.4-7.5 5.5-7.5 5.3-7.7 4.8-8 4-8.3 3.5-8.5 3.1-8.5 3.1-8.6 3.1-8.5 3.2-8.5 2.9-8.7 2.4-9 1.9-9.2 1.6-9.2 1.9-9 2.5-8.3 3.7zM1681 881.7l8.9-2.7 7.9-5.1 7.6-5.4 7.5-5.4-2-2.9-7.6 5.3-7.6 5.4-7.6 5-7.2 5.6zM355.6 1473.7l7.4-5.9 7.4-5.4 7.9-4.3 8.4-2.8 9-1.8 9.4-1.5 9.2-2.2 8.8-3.7 7.9-5.5 7.2-7 6.7-7.7 6.7-7.5 6.9-6.3 7.6-4.6 8.4-2.8 9.1-1.5 9.5-.7 9.7-.8 9.5-1.5 9.2-2.5 8.6-3.4 8.3-4.1 8.2-4.4 8.1-4.2 8.1-4.1 8.3-3.8 8.4-3.8-1.5-3.2-8.4 3.7-8.3 3.9-8.3 4.1-8.1 4.2-8.1 4.4-8.1 4-8.4 3.3-8.7 2.4-9.2 1.4-9.5 .8-9.7 .7-9.6 1.6-9 3.1-8.2 4.9-7.4 6.7-6.8 7.6-6.6 7.6-6.9 6.7-7.4 5.1-8.1 3.4-8.8 2.1-9.3 1.5-9.3 1.9-9 3-8.3 4.5-7.7 5.6-7.5 6zM579.5 1369.9l17.1-8.2 16.9-8.7 16.9-8.7 17-8.7 16.7-8.9 17.1-7.5 18.8-3.6 20.4-.3 20-2.7 16.9-9.6-1.8-3.1-16.3 9.3-19.1 2.5-20.5 .4-19.4 3.6-17.7 7.7-16.8 9-16.9 8.7-16.9 8.7-16.9 8.7-17.1 8.2zM579.6 1369.8l6.2-3.7 5.9-4.1 5.8-4.4 5.8-4.5 5.7-4.5 5.7-4.4 5.7-4.3 5.9-4.1 5.9-3.9 6-3.7 6-3.6 6.2-3.4 6.2-3.2 6.2-2.9 6.4-2.6 6.6-2 6.9-1.4 7.2-.6 7.5 .1 7.9 .7 8 .9 8.1 .9 7.9 .4 7.7-.4 7.3-1.5 6.9-2.8 6.1-3.8-1.9-3.1-5.9 3.7-6.2 2.5-6.7 1.4-7.3 .4-7.7-.4-7.9-.9-8.1-.9-8-.7-7.8-.1-7.6 .7-7.2 1.4-6.9 2.1-6.7 2.7-6.4 3-6.3 3.3-6.2 3.4-6.2 3.6-6 3.8-6 4-6 4.1-5.8 4.3-5.7 4.5-5.8 4.5-5.7 4.4-5.7 4.4-5.8 4-6 3.7zM757.6 1302.8l7.1-6.6 7-6.7 7.2-6 7.6-4.5 8.3-3.1 8.9-2 9.3-1.5 9.3-2 8.8-3.2 8.2-4.8 7.6-5.9 7.2-6.2 7.3-5.7 7.8-4.2 8.5-2.5 9.3-.7 9.9 .2 10.2 .4 9.9-.7 9.3-2.4 8.5-4.5 7.6-6.1 7-7 6.9-6.9 7-6.3 7.5-5.2 8-4.1 8.3-3.3 8.6-3.2 8.6-3.3 8.4-3.7 8.2-4.2 8.1-4.4 8-4.4 8-4.3 8.2-3.9 8.4-3.6-.1-.3-8.9 2.4-8.7 3-8.5 3.6-8.1 4.3-8 4.4-8.1 4.1-8.3 3.7-8.4 3.3-8.6 3.1-8.6 3.4-8.3 4.3-7.9 5.5-7.3 6.4-7 7.1-6.8 6.9-7.2 5.7-7.8 4.1-8.5 2.3-9.4 .6-10.1-.4-10.1-.2-9.9 .8-9.2 2.7-8.3 4.5-7.6 5.9-7.3 6.2-7.3 5.7-7.7 4.5-8.3 3-9 2-9.2 1.5-9.3 2-8.8 3.3-8.2 4.9-7.5 6.2-7 6.8-7.1 6.5zM1071 1153.5l8.9-1.8 9-1.8 8.9-2 8.8-2.4 8.7-2.6 8.7-2.9 8.5-3.3 8.3-4 7.9-4.9 7.5-5.8 7.2-6.3 7-6.3 7.2-5.8 7.5-4.6 8.1-3.2 8.8-1.8 9.3-.8 9.7-.5 9.5-.9 9.2-2.1 8.7-3.5 8-4.5 7.7-5 7.7-4.6 8-3.5 8.6-2.2 9.2-1 9.6-.5 9.6-.8 9.3-2.1 8.5-4.2 7.5-6 6.8-7.5 6.5-7.9 6.2-7.5 6.8-6.1 7.8-4.5-.1-.2-8.5 3.4-7.8 5.5-7.1 7.1-6.5 7.8-6.5 7.2-7 5.7-7.8 3.8-8.6 1.9-9.3 .8-9.7 .5-9.5 1.1-9.1 2.3-8.5 3.7-8 4.8-7.6 4.9-7.8 4.4-8.1 3.2-8.7 2-9.3 .9-9.6 .5-9.6 .8-9.3 1.9-8.7 3.4-8 4.9-7.4 6-7.1 6.4-7.1 6.2-7.2 5.6-7.6 4.7-8 3.9-8.3 3.2-8.5 2.8-8.7 2.6-8.7 2.5-8.7 2.8-8.7 2.9-8.6 3zM1396.2 1015.3l9.7 .2 9.6-.6 9.3-1.9 8.6-3.5 8.1-4.5 7.9-4.8 7.8-4.4 8.1-3.9 8.4-3.1 8.7-2.6 8.8-2.6 8.8-3 8.5-3.7 8.1-4.5 7.8-5.2 7.5-5.7 7.4-5.7 7.5-5.6 7.5-5.3 7.7-4.9 7.9-4.5 8-4 8.3-3.3 8.6-2.6 8.9-1.9 9.3-1.3 9.4-1 9.5-1.2 9.2-2.1 8.8-3.2 8.3-4.4 7.7-5.4 7.4-5.8 7.4-5.5 7.7-4.5 8.2-3.4 8.7-2.5 9-2 9.1-2.2 8.7-3.3 8.2-4.6 7.6-5.9 7.1-6.5 7.2-6.2-2.3-2.7-7.3 6.2-7.1 6.4-7.2 5.7-7.7 4.4-8.3 3-8.8 2.2-9.1 2-9 2.6-8.6 3.6-8 4.7-7.7 5.6-7.4 5.8-7.4 5.2-7.9 4.2-8.3 3.1-8.8 1.9-9.3 1.2-9.4 1.1-9.5 1.3-9.2 1.9-8.9 2.7-8.6 3.5-8.2 4-8.1 4.6-7.8 5-7.6 5.4-7.6 5.6-7.4 5.8-7.4 5.5-7.6 5.1-7.8 4.4-8.2 3.6-8.5 2.9-8.8 2.5-8.8 2.7-8.7 3.2-8.3 4-8 4.5-7.9 4.8-7.9 4.3-8.1 3.4-8.7 2.6-9.2 1.6-9.6 1.2zM303.9 1506.6l7-2 7.3-1.3 7.4-.7 7.6-.6 7.6-.9 7.6-1.2 7.4-1.6 7.1-2.2 7-2.6 6.8-2.8 6.7-3.1 6.7-3.1 6.6-3.1 6.6-3.1 6.6-3.5 6.5-3.8 6.2-4.5 5.9-5.1 5.7-5.7 5.4-5.9-2.7-2.4-5.3 5.9-5.5 5.5-5.7 4.9-6 4.3-6.2 3.7-6.5 3.3-6.5 3.2-6.7 3.1-6.6 3-6.6 3.1-6.7 2.8-6.8 2.5-6.9 2.1-7.2 1.6-7.4 1.1-7.5 .9-7.6 1.3-7.5 1.5-7.2 2.1-6.7 3zM303.9 1506.6l6.8-2.7 6.9-2.4 7-2 7.1-1.7 7.1-2 7.1-2.2 7-2.5 6.8-2.8 6.8-3 6.6-3 6.7-2.9 6.7-2.7 6.9-2.4 7-2.4 7-2.3 6.9-2.7 6.7-3.2 6.5-3.9 6.2-4.7 5.8-5.2-2.4-2.7-5.7 5.2-5.9 4.4-6.2 3.7-6.4 3.1-6.8 2.6-6.9 2.3-7 2.4-6.9 2.4-6.9 2.8-6.7 2.9-6.7 3-6.7 3-6.7 2.7-6.8 2.4-7 2.2-7.1 2.1-7 2.3-6.9 2.7-6.7 3.2-6.4 3.7zM439.6 1449.8l6.8-7.2 6.9-6.6 7.3-5.5 7.9-3.8 8.7-2.2 9.3-.9 9.8-.2 9.9-.3 9.7-1 9.3-2.1 8.8-3.2 8.3-4 8.2-4.4 8-4.4 8-4.5 8.1-4.5 7.9-4.8 7.8-5.3 7.5-5.8 7.4-5.9 7.4-5.6 7.7-4.8 8.1-3.6 8.7-2.2 9.3-1.1 9.7-.5 9.7-.7 9.5-1.8 8.8-3 8.2-4.4-.2-.2-8.5 3-8.9 2-9.2 1-9.6 .5-9.8 .5-9.6 1.2-9.3 2.3-8.6 3.8-8 5-7.6 5.8-7.4 5.9-7.4 5.7-7.6 5.2-7.8 4.7-8 4.5-8 4.4-8.1 4.5-8 4.3-8.1 3.9-8.4 3-8.9 2-9.3 1-9.8 .3-9.9 .2-9.7 .9-9.3 2.4-8.6 4.1-7.7 5.8-7.1 6.9-6.9 7.2zM703 1339.4l10.2-4.8 10.2-4.1 10.5-3.6 10.9-2.9 10.9-3.1 10.6-4 10.2-5.1 9.8-5.6 9.7-5.6 10-5-1.6-3.2-10.1 5-9.8 5.7-9.7 5.6-9.9 4.9-10.3 3.9-10.8 3-11 3-10.7 3.7-10 5.5-9.3 6.5zM704.1 1340.7l5.9-5.1 5.9-5.3 5.8-4.9 6.1-4.5 6.3-3.9 6.5-3.6 6.6-3.4 6.7-3.3 6.7-3.4 6.6-3.4 6.6-2.7 7.3-1.3 7.8-.2 8.3 .4 8.1-.3-.2-3.6-7.9 .3-8.3-.4-8.2 .2-7.8 1.4-7.2 2.9-6.7 3.5-6.7 3.4-6.7 3.3-6.7 3.4-6.6 3.7-6.5 4-6.3 4.6-6 5.1-5.9 5.3-5.9 5zM805.9 1295.7l8.3-3.5 8.4-3.3 8.4-3.4 8.3-3.9 8-4.5 7.8-4.8 7.8-4.7 7.8-4.1 8.3-3 8.7-1.9 9.3-.9 9.6-.5 9.7-.6 9.4-1.7 8.8-3.1 8.2-4.7 7.4-6 7.1-6.7 6.9-6.7 7-6.3 7.3-5.6 7.6-4.9 7.8-4.5 7.9-4.3 7.8-4.6 7.9-4.4 8-4.2-.1-.2-8.6 3-8.4 3.5-8.2 3.8-8.1 4.2-7.9 4.6-7.8 5.1-7.5 5.8-7.2 6.4-6.9 6.8-6.9 6.5-7.2 5.7-7.6 4.4-8.2 3-8.9 1.5-9.5 .6-9.6 .5-9.6 .9-9.2 2-8.7 3.2-8.2 4.3-7.9 4.8-7.7 4.7-7.9 4.4-8 3.8-8.3 3.4-8.5 3.3-8.3 3.5zM1043.6 1184.1l11.7-.2 12 .2 11.8-1.2 11.2-3 10.3-5.3 9.2-7.4 8.6-8.2 8.7-7.6 9.2-6.2 10-4.6-1.5-3.3-10.3 4.8-9.6 6.4-8.9 7.9-8.6 8.1-8.8 7.1-9.6 5-10.5 2.8-11.5 1.1-11.8 1.2-11.6 2.1zM1043.3 1185.7l8.7 1.6 9.2 3 9.5 3.2 9.3 2.5 8.9 1 8.1-1.2 7.2-3.4 6.2-5.2 5.5-6.6 5-7.4 4.8-7.8 4.8-7.6 4.9-7 5.3-5.9 5.9-4.5-2.2-2.9-6.2 4.8-5.6 6.3-5.1 7.2-4.9 7.7-4.7 7.7-4.9 7.2-5.1 6.2-5.7 4.8-6.2 3-7.1 1-8.2-.9-8.9-2.4-9.4-3.2-9.5-3-8.9-1.7zM1146 1140.7l6.9-2 7-1.5 7.1-1.6 7.1-1.7 7-2 6.9-2.3 6.7-2.5 6.6-2.6 6.7-2.5 6.7-2.3 6.8-2 7-1.9 7-1.7 7-1.9 6.9-2.2 6.8-2.7 6.5-3.1 6.3-3.6 6.2-3.8 6.1-3.7 6.2-3.5 6.3-3 6.6-2.4-1.2-3.4-6.8 2.5-6.6 3.1-6.3 3.5-6.2 3.8-6.1 3.8-6.2 3.5-6.3 3-6.5 2.6-6.7 2.2-6.9 1.8-7 1.8-7.1 1.8-6.9 2.1-6.8 2.3-6.7 2.5-6.7 2.6-6.6 2.5-6.7 2.3-6.9 1.9-7 1.7-7 1.5-7.2 1.6-7 2zM1146.2 1140.6l6.6-2.6 6.7-2.6 6.6-2.6 6.7-2.8 6.5-3 6.4-3.2 6.4-3.3 6.3-3.1 6.5-2.8 6.6-2.3 6.8-1.9 7.1-1.6 7.1-1.3 7.2-1.4 7.1-1.7 7.1-2 6.8-2.4 6.6-2.8 6.6-2.9 6.4-3 6.5-2.7 6.6-2.4 6.9-2-1-3.4-7 2-6.8 2.4-6.6 2.8-6.5 3-6.5 2.9-6.5 2.8-6.6 2.3-6.9 1.9-7 1.6-7.1 1.4-7.2 1.4-7.1 1.6-7.1 2-6.8 2.4-6.7 2.8-6.4 3.2-6.4 3.2-6.4 3.2-6.4 3-6.5 2.8-6.6 2.5-6.7 2.6-6.6 2.7zM1299.6 1084.3l8.3 .8 8.6 1.5 8.4 .2 7.6-1.8 7-3.1 6.4-4.4 5.8-5.6 5.3-6.4 4.6-7.1 4.4-7-.2-.2-6 5.8-5.6 6.3-5.1 6.2-5.5 5.2-5.9 4-6.3 2.9-6.8 1.6-7.7-.2-8.5-1.4-8.4-.9zM1300.9 1084l6-4.4 6-4.3 6.2-3 7-1.8 7.3-1.8 7.1-2.1 7-2.7 6.7-3.2 6.1-4.3 5.7-5-.2-.2-6.7 3.3-6.6 3-6.5 3.1-6.7 2.6-6.9 2.1-7.1 1.7-7.4 1.9-6.9 3.3-6.2 4.5-6 4.4zM1378.7 1041.5l8.3-3.7 8.7-2.5 8.9-1.8 9.1-1.7 9.2-1.8 9-2.1 8.9-2.5 8.8-2.6 8.8-2.5 8.9-2.5 8.8-2.4 8.9-2.8 8.5-3.6 8.1-4.9 7.5-6.2 6.9-7.3 6.6-7.7 6.6-7.4 7-6.4 7.4-4.8 8.2-3.2 8.9-1.8 9.3-1 9.5-1 9.5-1.3 9.1-2.2 8.8-2.9 8.5-3.5 8.4-3.6 8.4-3.4 8.4-3.3 8.5-3.3 8.5-3.6 8.2-4.2 7.9-5 7.7-5.4 7.5-5.4-2.1-3-7.5 5.5-7.5 5.3-7.8 4.8-8 4.1-8.2 3.6-8.5 3.2-8.5 3.3-8.4 3.5-8.4 3.6-8.3 3.4-8.6 2.8-8.8 2.1-9.2 1.4-9.5 .9-9.5 1-9.3 2-8.8 3.4-8 5.2-7.3 6.6-6.8 7.6-6.5 7.7-6.8 7.1-7.1 5.9-7.6 4.6-8.2 3.4-8.6 2.8-8.8 2.4-8.9 2.4-8.8 2.6-8.7 2.6-8.9 2.4-8.9 2.1-9.1 1.8-9.1 1.8-9 2.7-8.5 3.6-7.8 4.8zM1688.9 910.2l7.9-5.2 8.2-4.3 8.7-3.1 9.2-2.2 9.4-1.8 9.5-2 9.3-2.9 8.8-4 8.3-4.8 8.1-5.1 8.1-4.7 8.4-3.7 9-2.6-1-3.5-9.2 2.7-8.8 3.9-8.4 4.9-8.1 5-8.1 4.7-8.4 3.8-8.9 2.8-9.3 2-9.5 1.8-9.4 2.3-9.1 3.2-8.6 4.5-8.1 5.3zM319.2 1519.9l8.6-3.1 9-2.4 9.3-1.5 9.7-.8 9.8-.7 9.7-1.2-.4-3.6-9.6 1.2-9.8 .7-9.9 .8-9.6 1.6-9.2 2.4-8.9 3.2zM375.4 1510.2l7.3-1.2 7.3-1.9 6.8-2.7 6.6-3.5 6.2-4 6-4.4 5.9-4.3 5.9-4.2 6.1-3.9 6.2-3.6 6.3-3.4 6.3-3.5 6.5-3.6 5.9-5 5.1-6.3 4.7-6.8 4.8-6.2-.3-.2-5.8 5.4-5.4 6.1-5.5 5.5-5.6 4.5-6.1 3.5-6.3 3.4-6.4 3.5-6.3 3.6-6.2 4-6 4.3-6 4.3-5.9 4.3-6 3.9-6.2 3.3-6.4 2.6-6.9 1.8-7.2 1.1zM375.6 1510.1l7-2.2 6.7-3.4 6.2-4.4 5.7-5.3 5.4-5.8 5.3-6 5.2-5.8 5.4-5.6 5.5-5 5.7-4.5 6-4 6.1-3.8 6.2-3.5 6.3-2.7 6.8-2.2 7.2-1.8 6.9-2.4-.1-.2-7.2 1.1-7.3 .9-7.3 1.5-6.9 2.6-6.4 3.6-6.3 3.8-6.1 4.2-5.9 4.7-5.8 5.1-5.4 5.7-5.3 6-5.2 5.9-5.3 5.7-5.5 5-5.8 4.1-6.1 3.2-6.8 2.1zM501.6 1432.5l9.4-.7 9.8 0 9.9 .3 9.9-.5 9.6-1.6 9-3 8.4-4.2 8-5 7.7-5.4 7.7-5.2 7.8-4.8 8-4.6 8-4.5 8-4.9 7.8-5.3 7.6-5.6 7.6-5.6 7.6-5.1 8-3.9 8.6-2.5 9.2-1.2 9.8-.2 10.1 .2 10-.1 9.8-1 9.3-2.1 8.8-3.2 8.5-3.7 8.3-4 8.3-3.8 8.4-3.8 8.3-3.9 8.3-4.4 7.9-5.2 7.5-6 7.3-6.7 7-6.7 7.2-6 7.8-4.9-2-3.1-7.9 5.1-7.5 6.3-7.1 6.7-7.1 6.5-7.3 5.9-7.7 5-8 4.3-8.2 3.8-8.4 3.8-8.3 3.9-8.3 3.9-8.3 3.7-8.5 3-8.9 2-9.4 1-9.8 .1-10.1-.2-10 .2-9.7 1.3-9.2 2.7-8.5 4.1-7.9 5.2-7.6 5.7-7.6 5.6-7.6 5.2-7.9 4.7-8 4.6-8 4.6-8 4.9-7.8 5.3-7.6 5.3-7.8 4.9-8 4-8.5 2.8-9.1 1.5-9.6 .5-9.9 .6-9.8 1-9.4 2.1zM831.4 1293.8l13.4-4.8 14.6-2 15.1-1.2 14.8-2.6 14-4.3 13.5-5 13.6-4.8 13.7-4.9 13.1-6.6 11.9-9.3-2.2-2.9-11.6 9.2-12.6 6.3-13.5 4.8-13.6 4.8-13.5 5-13.6 4.2-14.4 2.5-15.1 1.2-15.1 2.1-13.7 4.9zM831.8 1293.7l6.1-3.9 6.2-3.3 6.5-2.8 6.7-2.4 6.9-2.3 6.8-2.3 6.8-2.7 6.7-3 6.5-3.2 6.3-3.4 6.4-3.4 6.4-3.1 6.6-2.7 6.6-2.4 6.9-1.3 7.5-.4 7.9 .2 8 .2 7.9-.6 7-2.3-1.1-3.4-6.6 2.2-7.3 .5-7.8-.2-8-.2-7.9 .4-7.5 1.4-6.9 2.5-6.8 2.8-6.5 3.2-6.4 3.4-6.4 3.4-6.4 3.2-6.5 2.9-6.6 2.6-6.8 2.3-6.8 2.3-6.9 2.5-6.7 2.8-6.5 3.5-6.3 3.9zM969.3 1248.1l7-7.2 6.8-7.7 6.8-7.2 7.2-6.1 7.7-4.7 8.3-3.4 8.9-2.4 9.2-1.8 9.3-1.9 9.2-2.2 9.1-2.5 8.9-2.6 8.9-2.5 9.1-2 9.3-1.6 9.5-1.6 9.3-2.1 9-3.1 8.4-4.6 7.8-5.9 7.3-6.9 6.9-7.1 7.1-6.7 7.4-5.8 7.8-4.5 8.4-3.5 8.7-2.9 8.9-2.6 9-2.7 8.7-3.2 8.7-3.3 8.8-3 0-.3-9.3 1.7-9 2.3-9 2.4-8.9 2.7-8.9 2.6-9 2.9-8.7 3.6-8.2 4.8-7.8 6-7.2 6.9-7 7.2-7 6.7-7.4 5.6-7.9 4.3-8.6 2.9-9 2-9.4 1.6-9.4 1.7-9.2 2-9.1 2.5-8.9 2.6-9 2.5-9 2.2-9.3 1.9-9.3 1.8-9.2 2.5-8.8 3.6-8.2 5-7.6 6.4-7 7.4-6.8 7.6-6.9 7.2zM1260.6 1119.8l10 .4 10-.2 9.7-1.3 9.1-3.2 8.4-4.8 7.7-6.1 7.3-6.6 7.3-6.6 7.4-5.9 7.8-5.1 8.1-4.5 8.3-4.1 8.4-4.1 8.3-4.3 8.2-4.4 8.3-4.1 8.5-3.5 8.7-2.8 9.4-1.9 9.8-1.2 0-.3-10-.2-9.7 .9-9.4 2.1-8.8 3.6-8.4 4.2-8.3 4.4-8.2 4.3-8.4 4.1-8.4 4.1-8.3 4.6-8 5.3-7.7 6.1-7.3 6.6-7.2 6.6-7.5 5.8-7.8 4.5-8.5 3.1-9.2 2-9.7 1.2-9.9 1zM1453.4 1044l10.8-1.9 10.2-4.2 9.2-6.3 8.7-7.1 8.6-6.9 8.8-6.3 9.2-5.7 9.2-5.7 9.1-6.1 8.9-6.6-2.1-2.9-8.8 6.5-9.1 6-9.1 5.7-9.3 5.9-9 6.4-8.7 6.9-8.6 7-8.8 6.2-9.1 5.2-10.2 3.6zM1453.5 1045.6l7.6-.6 7.4-1.2 7.2-1.9 6.8-2.7 6.5-3.3 6.3-3.8 6.1-3.9 6.1-4.1 6-4.2 5.9-4.6 5.7-5.1 5.5-5.5 5.3-5.9 5.2-6.1 5.3-5.7-2.7-2.4-5.3 5.7-5.2 6.1-5.2 5.8-5.4 5.4-5.5 4.9-5.7 4.5-6 4.1-6 4.1-6 3.9-6.1 3.6-6.3 3.2-6.4 2.5-6.8 1.9-7.1 1.1-7.5 .7zM1546.1 987.2l7.5-5.6 7.6-5.1 8-4.2 8.4-2.8 9-1.6 9.6-.6 9.9-.2 9.9-.5 9.5-1.4 9.1-2.6 8.6-3.7 8.2-4.3 8.1-4.6 8-4.4 8.1-4.1 8.3-4.1 8.2-4.2 8-4.8 7.8-5.5 7.4-6 7.4-6.1 7.4-5.5 7.8-4.4 8.3-3.1 9-1.7 9.5-.7 9.8-.4 9.8-.5 9.6-1.3 9.2-2.2 8.8-2.9 8.7-3.3 8.5-3.3 8.6-3.1-1.2-3.3-8.7 3.1-8.5 3.3-8.6 3.2-8.6 2.8-8.9 2.1-9.2 1.3-9.7 .5-9.8 .4-9.8 .7-9.5 1.9-8.8 3.2-8.3 4.7-7.7 5.7-7.3 6.1-7.4 5.9-7.5 5.4-7.9 4.6-8 4.2-8.3 4.1-8.2 4.1-8.1 4.5-8 4.5-8 4.3-8.3 3.5-8.6 2.5-9.2 1.3-9.6 .5-9.9 .2-9.9 .6-9.5 1.7-8.9 3-8.4 4.4-7.8 5.3-7.6 5.6zM345 1535.9l7.1-1.5 7.2-1.3 7.3-1.3 7.2-1.8 7-2.4 6.8-3 6.5-3.7 6.2-4.3 5.9-4.8 5.7-4.9 5.8-4.8 5.7-4.7 5.8-4.3 6.2-3.8-.2-.3-6.9 2.5-6.5 3.5-6.3 4.2-5.9 4.9-5.7 4.9-5.8 4.7-5.9 4.2-6.2 3.5-6.5 2.9-6.7 2.2-7.1 1.8-7 2.1-7 2.3-6.8 2.9zM345 1535.9l6.7-3 6.6-3.3 6.4-3.5 6.3-3.8 6.3-3.8 6.1-4.1 6.2-4.1 6.1-4 6.1-3.8 6.3-3.3 6.6-2.8 6.6-2.6 7-2.2 7-2.3 0-.3-7.4 .9-7.3 1.2-7.2 1.9-6.8 2.9-6.5 3.5-6.4 3.8-6.1 4.1-6.1 4.1-6.2 4-6.2 3.9-6.2 3.7-6.1 4.1-6 4.3-5.9 4.3zM449.9 1484.7l7.4-.8 7.3-1.3 7.2-2.2 6.6-3.3 6.4-4 6-4.4 6-4.3 6.1-3.9 6.3-3.4 6.5-2.6 6.8-2.4 7-2.2 7.1-2.1 0-.3-7.5 .6-7.4 1.1-7.2 1.9-6.8 2.8-6.6 3.5-6.3 4-6.1 4.4-5.9 4.3-6.1 3.9-6.3 3.1-6.6 2.7-6.9 2.3-7.1 2.3zM449.9 1484.7l6.9-2.8 6.4-3.9 6.1-4.5 5.8-5.1 5.7-4.8 5.9-4.4 6.1-3.7 6.4-2.8 6.8-1.9 7.2-1 7.7-.6 7.9-.5 7.8-.9 0-.3-7.8-.7-8-.6-7.9 0-7.6 1.1-7.3 2-6.9 3.1-6.4 3.9-6.1 4.5-5.9 4.9-5.7 5-5.5 5-5.7 4.7-6 4zM558.2 1443.2l8.6-2.9 8.3-4 8.1-4.4 7.9-4.8 7.8-4.6 8-4.5 7.9-4.6 7.9-4.8 7.7-5.3 7.5-5.4 7.6-5.3 7.7-4.5 8.2-3.3 8.7-1.8 9.5-.5 10 .4 10.2 .7 10 .1 9.7-1.3 9-2.8 8.3-4.4 7.8-5.3 7.4-5.8 7.4-5.6 7.6-5.1 7.8-4.7 8-4.3 8-4.2 8.1-4.4 7.9-4.5 8-4.3 8.1-3.9 8.3-3.1 8.8-2.1 9.1-1.5 9.4-1.1 9.4-1.3 9.2-2.3 8.7-3.4 8.1-4.7 7.7-5.4 7.5-5.6-2.2-2.9-7.5 5.6-7.5 5.3-7.7 4.4-8.2 3.3-8.7 2.1-9.2 1.4-9.5 1.1-9.3 1.4-9.1 2.3-8.7 3.2-8.4 4-8 4.4-8 4.5-8 4.3-8 4.3-8.1 4.3-7.9 4.7-7.8 5.3-7.5 5.6-7.4 5.8-7.5 5.1-7.8 4.2-8.4 2.6-9.1 1.2-9.7-.1-10.1-.7-10.2-.4-9.9 .5-9.4 2-8.7 3.5-8 4.7-7.7 5.3-7.6 5.5-7.6 5.1-7.7 4.8-7.9 4.5-8 4.6-7.9 4.6-7.8 4.9-7.6 5.1-7.7 4.8-8 4.2zM909 1292.7l12.1-7.8 13-5.5 13.9-4.1 13.8-4.8 13-6.8 12.1-8.5 11.9-8.5 12.4-7.1 13.1-5.6 13.4-5.3-1.3-3.4-13.4 5.4-13.4 5.7-12.7 7.3-12.1 8.5-11.9 8.4-12.6 6.6-13.4 4.7-14 4.1-13.5 5.7-12.4 8zM908.7 1292.8l6.5-2.9 6.7-1.9 7.2-1.1 7.5-.5 7.7-.3 7.7-.3 7.7-.7 7.4-1.4 7.1-2.4 6.7-3.4 6.2-4.3 5.8-5 5.6-5.5 5.4-5.6 5.5-5.5 5.4-5.3 5.7-5 5.7-4.7 5.8-4.5 6-4-2-3-6.1 4.1-6 4.5-5.8 4.9-5.7 5.1-5.6 5.4-5.5 5.5-5.4 5.6-5.4 5.3-5.6 4.8-5.9 4.1-6.2 3.2-6.6 2.2-7 1.4-7.4 .6-7.7 .3-7.7 .3-7.7 .5-7.5 1.2-7.3 2-6.7 3zM1037.8 1228.7l8.4-3.7 8.3-3.9 8.3-3.7 8.5-3.3 8.7-2.5 9.1-1.6 9.5-.9 9.7-.9 9.5-1.5 9.1-2.8 8.4-4.4 7.7-6 7.1-7 6.9-7.2 7-6.6 7.3-5.6 7.9-4.3 8.3-3.2 8.8-2.4 9.1-2.1 9.1-2.1 9.1-2.1 9-2 9.2-1.8 9.3-1.4-.5-3.6-9.5 1.4-9.2 1.8-9.2 2.1-9 2.1-9.1 2.1-9.1 2.1-9.1 2.5-8.7 3.3-8.3 4.6-7.8 5.9-7.1 6.8-6.9 7.2-7 6.8-7.2 5.7-7.9 4.1-8.5 2.6-9.2 1.5-9.5 .8-9.7 1-9.4 1.6-9.1 2.6-8.7 3.4-8.4 3.8-8.3 3.8-8.4 3.7zM1251 1145.7l9.4-1.1 9.5-1.2 9.3-1.6 9-2.8 8.4-4.1 7.8-5.6 7.2-6.5 6.9-6.8 7-6.5 7.3-5.4 7.8-4.1 8.4-2.9 8.8-2.1 9.1-1.9 9-2.3 8.8-2.9 8.4-3.6 8.2-4 8.1-4 8.3-3.7 8.4-3.1 8.6-2.8 8.7-2.7 8.7-3 8.4-3.7 8.2-4.3 7.9-4.7 7.8-4.8 7.9-4.4 8.1-3.7 8.4-3.1 8.7-2.7 8.7-3 8.4-3.6-1.4-3.3-8.3 3.6-8.5 2.8-8.8 2.8-8.6 3.2-8.4 3.8-8 4.5-7.9 4.8-7.8 4.7-7.9 4.2-8.2 3.5-8.5 3-8.7 2.7-8.7 2.8-8.6 3.2-8.4 3.7-8.2 4.1-8.1 3.9-8.2 3.6-8.5 2.8-8.8 2.2-9.1 1.9-9 2.2-8.8 3-8.3 4.4-7.7 5.7-7.2 6.6-6.9 6.8-7 6.3-7.4 5.3-7.8 3.9-8.5 2.6-9.1 1.6-9.3 1.1-9.4 1.1zM1534.7 1023l6.4-3.3 6.3-3.9 6-4.3 5.8-4.6 5.8-4.5 5.8-4.2 6.1-3.5 6.3-2.7 6.7-1.9 7.1-1.2 7.3-.7 7.6-.5 7.5-.6 7.5-1 7.3-1.5 7-2.2 6.7-2.8 6.4-3.2 6.4-3.5 6.2-3.5 6.3-3.4 6.3-3.3-1.7-3.2-6.3 3.3-6.3 3.5-6.3 3.5-6.2 3.4-6.3 3.1-6.5 2.7-6.6 2.1-7 1.5-7.2 .9-7.5 .6-7.6 .5-7.5 .7-7.4 1.3-7.1 2-6.8 2.9-6.3 3.7-6.1 4.3-5.8 4.6-5.8 4.5-5.8 4.3-6 3.7-6.3 3.1zM1534.8 1022.9l6.2-3.9 6-4.7 5.5-5.3 5.4-5.6 5.4-5.6 5.4-5.1 5.6-4.5 6-3.5 6.4-2.7 6.7-1.8 7.1-1.2 7.3-.9 7.5-.8 7.4-.9 7.3-1.2 7.2-1.4 7.1-1.6 7-1.7 7.1-1.8 7-1.8 7-1.9 6.8-2.2-1.1-3.4-6.8 2.2-6.9 1.8-6.9 1.8-7 1.8-7 1.7-7.1 1.6-7.1 1.4-7.2 1.1-7.3 1-7.4 .8-7.4 .8-7.4 1.3-7.1 1.9-6.8 2.9-6.4 3.8-6 4.7-5.6 5.3-5.4 5.6-5.3 5.5-5.4 5.2-5.6 4.5-6.1 3.7zM1679.4 962.8l9.3-4.3 8.9-5.2 8.5-6.2 8-7.2 7.8-7.4 7.9-6.6 8.4-5.2 9.2-3.1 10.1-2 10.9-1 0-.3-11.1-1-10.7 .7-9.9 3.5-9 5.4-8.2 7-7.8 7.4-7.9 7-8.2 6-8.6 5-9.1 4.2zM1679 962.9l7.3-1.1 7.5-.8 7.5-1.1 7.2-1.8 7-2.7 6.5-3.6 6.2-4.2 5.9-4.7 5.8-5.1 5.6-5.3 5.5-5.3 5.6-4.7 5.9-3.9 6.5-2.5-1.3-3.3-6.9 2.6-6.3 4.2-5.9 5-5.6 5.3-5.5 5.3-5.7 4.9-5.7 4.6-6 4.1-6.1 3.3-6.5 2.5-6.9 1.8-7.3 1-7.5 .8-7.4 1.1zM1775.5 914.8l10 1.6 9.8-1 9.3-2.2 8.8-3.4 8.3-4 8.1-4.4 8.2-4.2 8.2-4-1.6-3.2-8.2 4-8.2 4.2-8.1 4.4-8.2 3.9-8.4 3.3-8.8 2.1-9.3 .9-9.9 1.7zM568 1456.8l7.6-5.6 7.4-5.9 6.4-6.9-.1-.3-8.5 4.4-7.4 5.8-7.5 5.6zM605.5 1429.8l8.9-1.9 9.1-1.2 9.2-.9 9.2-1.6 9-2.3 8.7-2.9 8.5-3.4 8.2-3.5 8.4-3.2 8.5-2.7 8.8-2.4 8.9-2.1 8.8-2.5 8.6-3.3 8.2-4.3 7.7-5.2 7.5-5.6 7.3-5.6 7.5-4.9 7.9-4 8.3-3.1 8.7-2.4 8.8-2.2 8.9-2.4 8.6-3 8.4-3.7 8.2-3.9 8-4 8-3.9 8.4-3.3 8.6-3-.1-.3-9 1.7-8.8 2.5-8.5 3.1-8.2 3.9-8.1 4-8.2 3.5-8.4 2.9-8.7 2.4-8.8 2.2-8.9 2.5-8.6 3.2-8.3 4.2-7.7 5.1-7.5 5.6-7.4 5.6-7.5 5-7.8 4.1-8.2 3.1-8.7 2.5-8.8 2.2-8.9 2.3-8.7 2.8-8.5 3.3-8.3 3.5-8.3 3.3-8.5 2.9-8.7 2.1-9 1.7-9.2 1.8-9 2.2-8.6 3.2zM871.6 1330.4l9.1-1.5 9-2.3 8.7-3.3 8-4.7 7.7-5.5 7.4-5.8 7.4-5.6 7.6-4.8 8-4 8.4-3.3 8.6-3 8.6-3.1 8.5-3.6 8.1-4.3 8-4.6 7.9-4.7 7.9-4.1 8.3-3.4 8.6-2.6 8.9-2.1 9-2.4 8.8-3 8.3-3.9-.1-.2-8.7 2.6-8.9 1.9-9.1 1.6-9.1 2-8.9 2.7-8.6 3.5-8.2 4.3-7.9 4.7-7.9 4.6-8 4.1-8.2 3.5-8.5 3.1-8.7 3-8.5 3.4-8.3 4.1-7.9 5.1-7.6 5.6-7.4 5.8-7.4 5.4-7.7 4.6-8.1 3.9-8.4 3.2-8.8 2.8zM1078.2 1235.8l8.1-4.6 8.1-4.3 8.3-3.7 8.4-3.3 8.7-2.8 8.8-2.6 8.8-3 8.6-3.7 8.2-4.4 8-4.7 7.9-4.5 8.1-4 8.4-3.1 8.9-2.3 9.1-1.8 9.2-1.9 9.2-2.3 8.7-3.2 8.4-4 8.2-4.4 8-4.5 8.1-3.9 8.4-3.2 8.8-2.6 9-2.3 9-2.4 8.8-3.1 8.4-4 8.1-4.7 7.8-5.1 7.8-4.8 8-4.3 8.3-3.4 8.7-2.8 8.9-2.5 8.9-2.6 8.6-3.3-1.2-3.3-8.6 3.2-8.7 2.6-9 2.4-8.8 2.9-8.6 3.6-8.3 4.3-7.9 5-7.8 5-7.9 4.6-8.1 3.8-8.5 3-8.9 2.4-9 2.3-8.9 2.6-8.7 3.4-8.4 4-8.1 4.5-8 4.4-8.1 3.9-8.5 3.1-8.9 2.2-9.1 1.8-9.2 1.8-9.1 2.4-8.8 3.3-8.4 4.1-8 4.6-8 4.7-8 4.2-8.3 3.6-8.6 2.9-8.8 2.7-8.8 2.8-8.7 3.4-8.1 4.6-7.7 5.3-7.4 5.7zM1392.1 1107.7l8.2-4 8-4.6 7.7-4.9 7.8-4.6 8-3.9 8.4-3.1 8.7-2.5 8.8-2.3 8.9-2.5 8.6-3.3 8.3-4.2 7.8-5 7.7-5.2 7.6-5 7.8-4.4 8.1-3.7 8.4-3.2 8.6-2.9 8.6-3.2 8.3-3.8 8.1-4.6 7.7-5 7.7-5.1 7.7-4.5 8.1-3.8 8.4-2.8 8.8-2.1 9.1-1.8 9.1-2 8.9-2.7 8.5-3.5 8.2-4.1 8-4.4 7.9-4.2 8.2-3.7 8.4-3.1-1.2-3.4-8.6 3.2-8.4 3.7-8 4.3-8 4.4-8 4.1-8.2 3.3-8.6 2.6-8.9 2-9.1 1.8-9.1 2.1-8.8 3-8.4 3.9-7.9 4.7-7.7 5.1-7.7 5-7.8 4.4-8.1 3.7-8.4 3.1-8.6 3-8.6 3.1-8.4 3.9-8 4.5-7.8 5.1-7.6 5.2-7.6 4.8-7.9 4.1-8.4 3.2-8.6 2.5-8.9 2.2-8.9 2.6-8.6 3.2-8.3 4.1-7.9 4.6-7.8 4.9-7.8 4.5-8.1 3.9zM1688.9 974.1l7.2-1.3 7.3-.9 7.3-1 7.3-1.5 7-2.2 6.6-3.1 6.2-3.8 6-4.3 5.9-4.3 5.8-4.2 6-3.8 6.1-3.2 6.4-2.8 6.7-2.3 6.7-2 7-1.8-1-3.5-6.9 1.9-6.9 2-6.9 2.4-6.6 2.8-6.4 3.4-6.2 3.9-6 4.3-5.8 4.3-5.9 4.2-5.9 3.7-6.3 2.9-6.5 2.1-7 1.4-7.2 1-7.4 .9-7.2 1.3zM1689.4 974l6.5-2.9 6.4-3.2 6.4-3.2 6.2-3.6 6.2-3.7 6.1-3.9 6-4 6-3.9 6.1-3.6 6.2-3.1 6.4-2.4 6.8-1.8 7.1-1.1 7.3-.7 7.6-.5 7.4-.7-.4-3.6-7.4 .7-7.4 .5-7.6 .7-7.3 1.2-7.2 1.8-6.8 2.6-6.5 3.3-6.2 3.7-6.1 3.9-6 3.9-6 3.9-6.1 3.7-6.1 3.5-6.3 3.2-6.4 3.1-6.4 2.9zM1794.3 931.6l9.1-2 8.9-2.8 8.5-3.5 8.3-3.9 8.2-3.8 8.3-3.4 8.6-2.9 8.8-2.4-.9-3.5-8.9 2.5-8.8 2.9-8.5 3.5-8.3 3.8-8.2 3.9-8.4 3.4-8.6 2.7-8.9 2zM801.8 1380.4l8.6-3.6 8.3-4.2 8-5.1 7.7-5.6 7.5-5.5 7.8-4.9 8-4 8.6-2.8 9-2 9.3-1.7 9.2-1.9 9.1-2.5 8.7-3.4 8.4-4.1 8.1-4.4 8.2-4.2 8.3-3.7 8.5-3.4 8.6-3.2 8.4-3.9 7.8-5.2-.2-.3-8.7 3-8.6 3.1-8.6 3.1-8.6 3.4-8.5 3.9-8.2 4.2-8.1 4.4-8.2 4-8.4 3.3-8.8 2.4-9.1 1.9-9.3 1.7-9.3 2-8.9 3-8.5 4.1-8 5.1-7.7 5.6-7.5 5.5-7.8 4.9-8 4.2-8.4 3.5zM989.7 1292.9l7.7-5.7 7.6-5.8 7.6-5.4 7.6-4.7 8.2-3.5 8.6-2.5 9-2 9.2-1.8 9.1-2.3 8.8-2.8 8.6-3.3 8.4-3.4 8.5-3.2 8.6-2.8 8.9-2.2 9-2.1 9-2.4 8.8-3.2 8.3-4.4 7.8-5.4 7.4-6.1 7.3-6.3-2.4-2.7-7.2 6.2-7.3 6-7.4 5.3-7.9 4.1-8.4 3-8.8 2.4-9.1 2.1-9 2.3-8.8 2.8-8.6 3.2-8.4 3.5-8.5 3.2-8.6 2.8-8.9 2.2-9.1 1.8-9.2 2-8.9 2.6-8.6 3.7-8.1 4.9-7.2 6.3-6.9 6.7-6.9 6.7zM1173.6 1211.7l7.3-5.7 7.6-4.6 8-3.7 8.5-2.7 8.8-2.2 9-2.1 8.8-2.4 8.7-2.8 8.6-3 8.5-2.9 8.7-2.5 8.9-1.8 9.2-1.3 9.4-1.2 9.2-1.6 9-2.6 8.5-3.9 7.9-5.1 7.3-6.1 7.1-6.5 7.1-6.1 7.3-5.4 7.7-4.6 8.1-3.8 8.3-3.5 8.3-3.4 8.4-3.7 8.1-3.9 8.1-3.9 8.1-3.9 8.4-3.3 8.8-2.6-.1-.3-9.2 1.3-8.8 2.4-8.6 3.2-8.2 3.9-8.1 3.8-8.3 3.7-8.3 3.4-8.4 3.5-8.3 3.9-8 4.8-7.5 5.6-7.3 6.2-7 6.4-7.2 6-7.4 4.9-8 3.7-8.6 2.4-9 1.5-9.3 1.2-9.3 1.3-9.2 1.9-8.8 2.5-8.7 3-8.5 3-8.6 2.7-8.7 2.4-8.9 2.1-9 2.3-8.8 2.8-8.4 3.8-8 4.9-7.4 5.8zM1444.3 1098.2l7.5 .5 7.8 .6 7.7 .5 7.7-.1 7.3-1.1 7-2.2 6.6-3.1 6.1-4 5.8-4.7 5.6-4.9 5.5-5 5.5-4.8 5.6-4.6 5.7-4.4 5.8-4.3 5.8-4.2 5.6-4.6 5.5-4.8 5.4-4.8 5.5-4.7-.2-.3-6.1 3.9-6 4.2-5.9 4.2-6 4-5.8 4.2-5.8 4.3-5.8 4.5-5.7 4.7-5.5 4.8-5.5 5-5.5 4.9-5.6 4.4-5.8 3.8-6.1 3-6.5 2-6.9 1.1-7.3 .6-7.7 .3-7.7 .2-7.6 .6zM1444.3 1098.2l7.1-.8 7.1-1.2 7.1-1.5 6.8-2.1 6.5-3.1 6.2-3.8 5.9-4.5 5.7-4.8 5.5-5 5.5-4.9 5.5-4.5 5.8-4 6-3.5 6.2-3 6.4-2.7 6.5-2.5 6.5-2.8 6.4-3 6.2-3.3 6-3.7-.1-.3-6.5 2.8-6.5 2.5-6.6 2.3-6.6 2.2-6.6 2.5-6.6 2.7-6.4 3.1-6.3 3.6-5.9 4.2-5.8 4.7-5.5 4.9-5.5 5-5.5 4.7-5.7 4.3-5.9 3.6-6.2 2.9-6.3 2.7-6.7 2.1-6.8 2-7 1.9zM1590.9 1022.7l9.2-1.6 9.5-.4 9.9 .2 9.9-.2 9.9-.8 9.4-1.9 8.9-3.3 8.3-4.4 7.9-5 7.8-5.2 7.9-4.8 8-4.6 8.1-4.3 8.1-4.4 8.1-4.9 7.8-5.3 7.6-5.6 7.6-5.4 7.8-4.6 8.2-3.4 8.8-2.4 9.5-1.3 9.9-.7 0-.3-10-.7-9.8 .3-9.5 1.7-8.8 3.6-8.1 4.8-7.7 5.5-7.6 5.6-7.7 5.2-7.9 4.8-8 4.4-8.2 4.3-8.1 4.6-7.9 4.9-7.8 5.1-7.8 5-8 4.2-8.4 3.1-8.9 1.8-9.5 .8-9.9 .2-10 .7-9.6 1.5-8.9 2.9zM1805.1 948.2l11.6-.5 11-2.5 10.3-4.4 10-4.9 9.9-4.9 10-4.8 9.9-5 9.7-6 8.7-7.6 7.9-8.8-.2-.2-9.2 7.2-9.3 6.5-9.3 5.7-9.8 5-10 4.8-9.9 4.8-9.9 4.9-10 4.3-10.3 3.7-11.2 2.4zM1804.9 949.8l8.3 .5 8.2 .3 8-.5 7.7-1.2 7.3-2 7.1-2.7 6.7-3.2 6.6-3.6 6.4-3.9 6.3-4.4 6.1-4.9 5.7-5.5 5.5-6.1 5.3-6.4 5.3-6.4-2.8-2.3-5.3 6.4-5.2 6.4-5.3 5.9-5.6 5.3-5.9 4.8-6 4.2-6.3 3.8-6.4 3.5-6.6 3.1-6.7 2.6-7 1.9-7.3 1.2-7.6 .4-8.1-.3-8.1-.4zM954.6 1336.4l7.4-6.2 7.2-6.4 7.3-6 7.5-5.4 7.9-4.6 8.1-4.1 7.7-5.3-.2-.2-9 2.2-8.3 4.2-8.1 4.8-7.8 5.5-7.4 6.2-7.3 6.4-7.3 6.1zM1026 1290.5l8.7-2.6 8.9-2.2 9-1.4 9.4-1 9.6-.5 9.8-.6 9.5-1.4 9.1-2.8 8.3-4.5 7.6-6.2 7-7.1 6.8-7.3 6.8-6.7 7.3-5.5 7.9-4.1 8.4-2.9 8.8-2.2 9.1-1.9 9.1-2 9-2.4 8.8-2.6 8.8-2.7 8.8-2.4 8.9-2.2 9.1-1.9 9.1-2.1 8.9-2.7 8.6-3.6 8.2-4.4 7.8-5.2-2-3-7.6 5.1-7.9 4.3-8.3 3.4-8.6 2.6-9 2.1-9.1 1.9-9 2.2-8.9 2.4-8.8 2.7-8.8 2.6-8.8 2.4-9 2-9.2 1.9-9 2.2-8.9 3.1-8.3 4.4-7.7 5.8-7.1 6.9-6.8 7.3-6.8 7-7.2 5.8-7.7 4.2-8.4 2.6-9.2 1.3-9.6 .6-9.7 .5-9.6 1.1-9.2 2.3-8.7 3.2-8.3 3.9zM1283 1195.5l6.3-3.5 6.4-2.9 6.6-2.5 6.8-2 7.1-1.4 7.3-1.2 7.3-1.1 7.4-1.4 7.1-2 6.8-2.8 6.5-3.7 6.1-4.4 5.8-5 5.7-5.2 5.5-5.1 5.7-4.7 5.9-4 6.2-3.4 6.5-2.6 6.8-2.1 6.9-1.9 7.1-1.7 7.1-1.8-.9-3.5-7.1 1.8-7.1 1.7-7 1.9-7 2.2-6.9 2.8-6.5 3.5-6.2 4.3-5.8 4.8-5.7 5.2-5.6 5.1-5.6 4.9-5.8 4.2-6.1 3.4-6.5 2.7-6.8 1.9-7.1 1.4-7.3 1.1-7.4 1.1-7.3 1.5-7.1 2.1-6.8 2.6-6.7 3-6.4 3.5zM1283.3 1195.3l5.7-5 5.6-5.1 5.7-4.7 5.9-4.1 6.1-3.4 6.5-2.7 6.7-2.4 6.9-2.1 7-2.2 6.8-2.6 6.6-3.3 6.3-3.7 6.1-4.2 6-4.2 6-4 6.2-3.5 6.4-2.7 6.7-2 7.1-1.3 7.4-.8 7.6-.5 7.6-.7 7.5-.9-.5-3.6-7.4 1-7.5 .6-7.6 .5-7.6 .8-7.4 1.4-7.1 2.1-6.8 2.9-6.5 3.6-6.1 4.1-6 4.2-6 4.1-6.1 3.7-6.3 3.1-6.6 2.5-6.9 2.2-6.9 2.1-6.9 2.4-6.7 2.9-6.5 3.6-6.2 4.3-5.8 4.8-5.7 5.1-5.7 5zM1433.9 1129.1l9.1-2.3 8.9-3 8.7-3.5 8.6-3.7 8.5-3.7 8.5-3.8 8.4-4.1 8.2-4.8 7.8-5.7 7.4-6.7 7-7.2 7-7.2 7.1-6.3 7.7-4.8 8.3-3.1 9.2-1.4 9.8-.3 10.1 .1 10.1-.4 9.7-1.4 9.2-2.8 8.6-3.9 8.2-4.6 8.1-4.7 8.1-4.6 8.2-4.2 8.3-4.1 8.1-4.6 7.9-5 7.7-5.5-.2-.3-8.3 4.3-8.4 4.1-8.4 3.8-8.3 4.1-8.3 4.3-8.2 4.5-8.1 4.8-8 4.5-8.3 3.7-8.7 2.7-9.2 1.4-9.8 .3-10.1-.1-10.1 .3-9.8 1.5-9 3.4-8.3 5.1-7.4 6.6-7.1 7.3-6.9 7.2-7.2 6.4-7.5 5.5-7.9 4.7-8.3 4-8.4 3.7-8.5 3.7-8.5 3.7-8.5 3.4-8.7 2.9-9 2.3zM1704 1001.1l8.6-2.9 8.8-2.1 8.9-1.9 9.2-1.5 9.3-1.6 9.1-2.3 8.8-3.2 8.2-4.3 8-4.7 7.8-4.7 8-4 8.4-3 8.8-1.9 9.3-1.3 9.5-1.2 9.3-1.7 9-2.7 8.4-4.1 7.9-5-2-3.1-7.6 5-8 3.8-8.5 2.6-9.1 1.7-9.3 1.1-9.5 1.3-9.2 2.1-8.8 3.1-8.3 4.2-8 4.7-7.8 4.7-8 4.1-8.3 3.1-8.8 2.2-9.2 1.6-9.3 1.5-9.2 2-8.6 3.5-7.9 4.7zM1089.1 1292.5l7.9-4.4 7.8-4.7 7.8-4.6 7.9-4.1 7.6-5-.1-.2-9 2-8.1 4.2-7.9 4.6-7.8 4.7-7.9 4.4zM1138.5 1266.3l16.2-3.8 15.5-5.9 14.2-8.8 13.9-8.4 15.3-4.9 17.2-.9 17.9-.1 16.8-3.6 14.3-8.9 12.7-11.6-.1-.2-13.8 9.9-14.4 7.4-15.9 3.4-17.6 .1-17.7 1-16.1 5.1-14.4 8.6-14 8.7-14.6 7.1-15.4 5.6zM1139.2 1267.9l6.6-2.6 6.6-3 6.5-3.4 6.2-4 5.9-4.4 5.8-4.8 5.7-4.9 5.6-4.6 5.8-4.1 6.1-3.2 6.5-2.2 7-1.2 7.4-.4 7.8 .4 8 .6 8 .5 8 0 7.6-.7 7.3-1.6 6.9-2.5 6.6-3.2 6.3-3.7 6.1-4.1-2.1-3-5.9 4.1-6.1 3.6-6.3 3-6.5 2.3-6.8 1.6-7.3 .7-7.6-.1-7.9-.5-8.1-.6-8-.4-7.8 .4-7.5 1.3-7 2.4-6.5 3.4-6.2 4.3-5.8 4.8-5.6 4.9-5.7 4.7-5.8 4.3-6 3.8-6.2 3.3-6.4 2.8-6.6 2.6zM1299.2 1204.1l8-5 8-4.6 8.1-4.3 8-4.5 8.1-4.4 8.1-4.2 8.2-3.6 8.6-2.9 8.9-1.9 9.4-1 9.7-.6 9.8-.7 9.5-1.5 9.1-3.1 8.3-4.6 7.6-6 7.2-6.6 7.1-6.5 7.3-5.8 7.7-4.6 8.3-3.6 8.6-2.8 8.8-2.7 8.8-3.2 8.5-3.9 8.1-4.7 7.8-5.1 7.8-5 7.9-4.5 8.1-3.9 8.5-3.1 8.7-2.8 8.9-2.6 8.8-2.9 8.7-3.1 8.6-3.3 8.5-3.1 8.7-2.7 9-2.2 9.1-1.9 9.2-2 9-2.8 8.5-4 8-5.5 7.2-6.7 6.9-7.3 6.8-7.1 7.3-6.1-2.3-2.7-7.4 6.2-7 7.2-6.8 7.2-7 6.5-7.5 5.2-8 3.8-8.6 2.6-9.1 2-9.1 1.9-9.1 2.3-8.9 2.7-8.7 3.2-8.6 3.2-8.6 3.1-8.7 2.9-8.8 2.6-8.9 2.8-8.7 3.2-8.4 4-8.1 4.6-7.9 5.1-7.7 5-7.9 4.6-8.2 3.8-8.5 3-8.8 2.8-8.8 2.9-8.6 3.7-8.1 4.8-7.6 6-7.2 6.6-7.1 6.6-7.3 5.7-7.8 4.3-8.4 2.9-9.1 1.5-9.6 .6-9.8 .6-9.6 1.1-9.4 1.9-8.9 3-8.5 3.8-8.2 4.2-8.1 4.5-8.1 4.5-7.7 5.1-7.6 5.5-7.2 6.2zM1698.7 1019.3l7.9-4.5 8.4-2.6 9.2-1.3 9.7-.3 9.9-.1 9.9-.6 9.5-1.5 9.1-2.3 8.8-3 8.6-3.4 8.5-3.4 8.5-3.6 8.4-3.7 8.3-4.3 8-4.8 7.7-5.5 7.5-5.7 7.5-5.7 7.6-4.9 8.1-3.9 8.6-2.8-1.1-3.4-8.9 2.9-8.4 4.1-8 5.1-7.6 5.7-7.4 5.7-7.6 5.4-7.8 4.7-8.1 4.1-8.3 3.7-8.4 3.5-8.4 3.5-8.5 3.3-8.6 3-8.8 2.2-9.2 1.4-9.6 .6-9.9 .1-9.9 .4-9.7 1.2-9.1 2.9-8.1 4.7zM1303.7 1227.3l7.1-6.4 7.2-6.1 7.4-5.5 7.7-4.6 8.1-3.9 8.3-3.6 8.4-3.6 8.2-4 8.1-4.3 8-4.3 8.1-3.9 8.4-3.1 8.7-2.2 9.2-1.4 9.5-.9 9.5-1.2 9.2-1.9 8.9-3.2 8.2-4.3 7.8-5.2 7.6-5.6 7.5-5.4 7.7-4.9 7.9-4.4 8.1-4 8.1-4.1-1.6-3.2-8.1 4.1-8.2 4-8.1 4.5-7.8 5-7.6 5.5-7.5 5.5-7.6 5.1-7.9 4.1-8.3 3-8.9 1.9-9.3 1.1-9.5 1-9.5 1.4-9.1 2.3-8.7 3.2-8.3 4-8.1 4.3-8 4.3-8.1 3.9-8.3 3.6-8.4 3.6-8.3 4.1-8 4.7-7.7 5.7-7.3 6.2-7.1 6.4zM1516.7 1125.2l8.1-4.5 7.8-5.1 7.7-5.4 7.5-5.5 7.7-4.9 8-3.9 8.5-2.7 9-1.8 9.4-1.1 9.5-1.1 9.4-1.7 9-2.6 8.6-3.5 8.3-4.1 8.1-4.1 8.2-3.8 8.4-3.4 8.6-2.9 8.8-2.9 8.6-3.3 8.4-4.1 8-4.8 7.7-5.5 7.5-5.5 7.7-5 7.9-4 8.3-3.4 8.9-2.6 9.1-2.3-.1-.3-9.4 .9-9.2 1.7-9 2.7-8.3 4.2-7.9 5.2-7.6 5.5-7.6 5.3-7.7 4.8-8.1 3.9-8.4 3.2-8.7 2.9-8.7 2.9-8.6 3.5-8.4 3.9-8.1 4.1-8.2 4-8.3 3.4-8.7 2.4-9 1.7-9.4 1.1-9.6 1.2-9.3 1.8-9 2.9-8.4 4.1-7.9 5-7.6 5.5-7.6 5.5-7.7 4.9-8 4.5zM1770.7 1017.5l9.4-.8 8.7-3.2 8.4-3.7 8.2-3.9 8.3-3.6 8.5-3.1 8.7-2.5 8.9-2.3 9-2.5 8.7-3.2 8.3-4.2 7.9-5-1.9-3-7.7 4.9-8 4-8.4 3.1-8.8 2.4-9 2.3-8.8 2.6-8.7 3.1-8.5 3.7-8.2 3.9-8.3 3.7-8.4 3.1-8.4 3.9zM1460.6 1173l8-4.1 8.1-3.8 8.3-3.3 8.5-2.8 8.7-2.6 8.7-2.9 8.5-3.7 8-4.8 7.5-5.8 7.1-6.5 7-6.4 7.2-5.8 7.5-4.8 8-3.5 8.6-2.5 8.9-1.9 9.1-1.7 9.1-1.9 8.9-2.3 8.7-2.6 8.7-2.6 8.7-2.5 8.9-2 9-1.9 9.1-1.9 8.9-2.6 8.5-3.7 7.9-5 7.4-6.3 6.9-6.9 6.9-6.8 7-6.2 7.4-4.9 7.9-3.6 8.6-2.4 9-1.7 9.2-1.3 9.3-1.4 9.1-1.8 9-2.1-.8-3.5-8.9 2.1-9 1.7-9.2 1.5-9.3 1.3-9.2 1.7-9 2.5-8.5 3.8-7.8 5.3-7.3 6.4-6.9 6.9-6.8 6.8-7.1 6-7.5 4.7-8 3.5-8.6 2.5-8.9 1.9-9.1 1.9-9 2.1-8.8 2.4-8.7 2.7-8.7 2.6-8.7 2.2-9 1.9-9.1 1.7-9.1 1.9-8.9 2.6-8.5 3.7-7.9 5-7.4 6.1-7.1 6.5-7 6.3-7.3 5.6-7.6 4.6-8.1 3.5-8.5 2.8-8.7 2.6-8.7 2.9-8.5 3.4-8.2 3.9-8.1 4.2zM1792.4 1031.7l9-2.1 9.1-2 9.2-1.8 9.3-1.6 9.2-2 9-2.9 8.5-4.2 7.8-5.5-2.1-3-7.5 5.5-8 3.9-8.6 2.7-9 1.9-9.3 1.7-9.2 1.7-9.2 2-9.1 2.2zM1537 1149.2l8-4.1 8-4 8.2-3.6 8.4-2.7 8.8-1.7 9.4-.7 9.7-.1 9.8-.1 9.7-.8 9.2-2 8.6-3.5 8-4.9 7.5-5.8 7.2-6.1 7.2-5.8 7.4-5.3 7.7-4.7 7.9-4.3 8-4.1 8-4.3 7.9-4.4 7.9-4.3 7.9-4.1 8.2-3.4 8.9-2.5-.1-.2-9.2 1-8.9 2.5-8.4 3.5-8 4.3-7.9 4.4-8 4.3-8 4.2-8 4.3-7.9 4.8-7.6 5.4-7.3 5.9-7.2 6.1-7.3 5.6-7.5 4.7-8.1 3.3-8.7 1.9-9.3 .7-9.7 .1-9.8 .1-9.6 .7-9.3 1.8-8.8 2.9-8.4 3.6-8.1 4-8.1 4.1zM1761.1 1061.4l7.9 1.4 8 1.4 8 .9 7.8 .1 7.4-1.1 7.1-2 6.6-2.9 6.2-3.7 6-4 5.9-4.2 5.8-4.3 5.8-4.3 5.8-4.3 5.8-4.4 5.7-4.6 5.7-4.7 5.5-5 5.5-5 5.6-4.9-2.4-2.7-5.6 4.9-5.5 5-5.5 4.9-5.5 4.7-5.7 4.5-5.7 4.4-5.8 4.3-5.8 4.3-5.8 4.3-5.8 4.2-5.9 3.9-6 3.5-6.2 2.7-6.5 1.9-7 1-7.4 .3-7.8-.2-8.1-.4-8.1-.2zM1761.1 1061.4l7.6 .2 7.4-.3 7.3-.8 7.1-1.8 6.6-2.9 6.3-3.7 6-4.3 5.7-4.6 5.6-4.7 5.7-4.4 5.7-4.1 6-3.5 6.2-3.1 6.4-2.7 6.5-2.6 6.5-2.7 6.5-2.8 6.4-3.1 6.2-3.5-1.7-3.1-6.1 3.4-6.3 3-6.4 2.8-6.5 2.6-6.5 2.6-6.5 2.8-6.4 3.2-6.2 3.7-6 4.2-5.8 4.5-5.6 4.7-5.6 4.6-5.8 4.1-5.9 3.5-6.2 2.7-6.6 2.1-6.9 1.6-7.2 1.1-7.5 1z"/>
<path clip-path="url(#cs)" d="M317.7 1545.4l8.9-2 8.9-2.1 8.7-2.9 8.6-3.2 8.4-3.6 8.2-4.1 8.1-4.5 7.8-4.7 7.8-5 7.7-4.9 7.8-4.8 7.9-4.5 8-4.3 8.1-4 8.2-3.7 8.2-3.7 8.4-3.5 8.3-3.5 8.4-3.3 8.5-3.1 8.6-2.8 8.7-2.4 9-1.9 9.2-1.4 9.3-1 9.5-.8 9.6-.9 9.5-1.1 9.2-1.8 9-2.6 8.5-3.6 8.1-4.7 7.7-5.4-2.1-2.9-7.5 5.3-7.8 4.4-8.1 3.5-8.6 2.5-9 1.8-9.3 1.1-9.5 .8-9.5 .8-9.5 1-9.4 1.4-9.1 2-8.9 2.4-8.8 2.9-8.5 3.2-8.5 3.3-8.4 3.5-8.4 3.5-8.3 3.7-8.3 3.8-8.2 4-8.1 4.3-7.9 4.6-7.9 4.8-7.7 5-7.8 4.9-7.8 4.7-7.8 4.4-8.1 4-8.3 3.6-8.4 3.1-8.6 2.9-8.5 3.4-8.3 3.8zM373.7 1553.6l8.4-4.1 8.1-5 7.8-5.5 7.7-5.7 7.6-5.7 7.7-5.4 7.9-4.9 8.1-4.3 8.3-3.8 8.6-3.4 8.7-3.1 8.7-3.1 8.8-3.1 8.7-3.1 8.8-3.2 8.7-3 8.8-2.8 9-2.3 9.2-1.7 9.5-1.2 9.7-.8 9.8-.6 9.8-.8 9.6-1.7 9.1-2.8 8.5-4.1-.1-.3-8.9 2.7-9.1 1.6-9.5 1-9.7 .8-9.8 .6-9.8 .8-9.6 1.2-9.5 1.8-9.2 2.4-8.9 2.8-8.9 3-8.7 3.2-8.7 3.1-8.8 3.1-8.7 3.1-8.8 3.2-8.7 3.4-8.5 3.9-8.3 4.4-8.1 5-7.8 5.5-7.7 5.7-7.6 5.7-7.7 5.4-7.8 4.8-8.3 4.1zM617.9 1455.4l8.1-5.7 6.8-7.3 6.8-7.2 7-6.6 7.2-5.8 7.7-4.9-1.9-3.1-7.9 5-7.5 6.1-7.1 6.8-6.9 7.2-6.8 7.2-5.7 8.1zM409.9 1552.9l8.4-3.5 8.4-3.9 8.2-4 8.2-4 8.2-3.8 7.8-4.9-.1-.3-9.1 1.9-8.4 3.8-8.2 4-8.2 4.1-8.2 3.8-8.4 3.5zM477.5 1523.7l13-1.3 13.1-1.3 13-2.3 12.5-3.5 12-4.9 11.4-6 11-6.6 11.1-6.4 11-6.2 11.5-5.4-.1-.2-12.3 3.6-11.8 5-11.2 6.5-11 6.5-11.1 5.9-11.6 4.8-12.2 3.3-12.7 2.4-12.9 2.6-12.8 3.2zM478.2 1525.2l6.5-2.8 6.4-3.1 6.4-3.1 6.3-3.1 6.4-2.9 6.4-2.9 6.5-2.6 6.6-2.6 6.6-2.5 6.6-2.6 6.6-2.6 6.5-2.5 6.7-2.3 6.7-2.1 6.9-1.8 6.9-1.5 7.1-1.3 7.1-1.4-.7-3.6-7.1 1.4-7.1 1.4-7.1 1.5-7 1.8-6.8 2.1-6.8 2.4-6.6 2.5-6.6 2.6-6.6 2.6-6.6 2.6-6.6 2.5-6.6 2.7-6.5 2.9-6.4 3-6.4 3.1-6.4 3.1-6.3 3.1-6.4 2.7zM611.5 1475.6l9.1-1.3 8.9-2.2 8.6-3.2 8.3-4 7.9-4.7 7.6-5.5 7.4-6.1 7.1-6.2 7.1-6.2 7.3-5.8 7.4-5.1 7.8-4.4 8.1-3.6 8.4-2.9 8.7-2.4 8.8-2.2 8.9-2.2 8.9-2.4 8.7-2.8 8.6-3 8.5-3.2 8.4-3.3 8.4-3.2 8.5-2.9 8.6-2.6 8.8-2.3 8.9-2.1 8.9-2.2 8.8-2.5 8.7-3.2 8.3-4 7.9-5 7.4-6 7-6.8 6.8-7.2-2.7-2.5-6.6 7.2-6.9 6.6-7.1 5.8-7.6 4.8-7.9 3.8-8.4 3-8.6 2.5-8.9 2.2-8.9 2.1-8.9 2.3-8.7 2.6-8.7 3-8.4 3.2-8.4 3.3-8.5 3.2-8.4 3-8.6 2.7-8.8 2.4-8.8 2.2-8.9 2.2-8.9 2.5-8.6 3-8.4 3.7-8.1 4.5-7.7 5.3-7.4 5.9-7.2 6.2-7.1 6.3-7.2 5.9-7.3 5.4-7.7 4.6-8 3.8-8.3 3.1-8.5 3.1-8.5 3.5zM450.8 1552l8.1-3.9 8.4-2.9 8.9-1.9 9.4-.9 9.8 0 10.1 .5 10.1 .4 10.1 0 9.7-.9 9.3-2.1 8.7-3.5 8.2-4.7 7.6-5.8 7.3-6.4 7.1-6.5 7.1-6.3 7.4-5.8 7.6-4.9 7.9-4.2 8.3-3.5 8.6-3 8.7-2.9 8.6-3 8.6-3.4 8.3-4 8.1-4.6 7.8-5.1 7.7-5.3 7.6-5.3 7.7-5 7.9-4.4 8.2-3.7 8.4-3.1 8.7-2.6 9-2.1 9.1-1.9 9.1-2 9-2.2 8.9-2.5 8.8-2.8 8.6-3.2 8.5-3.4 8.5-3.5 8.4-3.5 8.4-3.5 8.4-3.6 8.4-3.7 8.3-4.1 8-4.6 7.6-5.5 7.2-6.2 6.8-6.9-.2-.2-7.6 5.8-7.8 5.3-7.8 4.6-7.9 4.5-8.1 4-8.3 3.7-8.4 3.6-8.4 3.5-8.4 3.5-8.4 3.5-8.5 3.3-8.5 3.2-8.6 2.8-8.8 2.5-8.9 2.1-9.1 2-9.1 1.9-9.1 2.1-8.9 2.6-8.7 3.2-8.4 3.9-8.1 4.6-7.9 5-7.6 5.3-7.7 5.3-7.7 5-7.8 4.5-8.2 3.9-8.3 3.3-8.6 3-8.7 2.9-8.7 3.1-8.5 3.5-8.2 4.4-7.9 5.1-7.6 5.9-7.2 6.4-7.1 6.6-7.2 6.2-7.3 5.6-7.7 4.5-8.3 3.3-8.7 2-9.4 .8-9.8 0-10.1-.4-10.1-.5-10.1 .1-9.7 .8-9.3 2-8.9 3.1-8.3 4zM892.9 1363.3l7.6-6.2 7.4-6.1 7.3-5.8 7.5-5.1 7.9-4 8.4-2.9 8.9-1.8 9.4-1 9.6-.6 9.7-.5 9.6-.8 9.4-1.5 9.1-2.4 8.6-3.4 8.3-4.2 8-4.7 7.8-4.7 7.9-4.6 8-4 8.3-3.3 8.7-2.5 8.9-1.9 9.3-1.4 9.3-1.4 9.2-1.8 9.1-2.4 8.7-3.3 8.2-4.3 7.8-5.3 7.5-6-2.3-2.8-7.3 5.9-7.5 5.1-7.9 4.1-8.3 3.2-8.8 2.3-9 1.7-9.3 1.4-9.3 1.5-9.2 1.9-9 2.6-8.6 3.4-8.2 4.1-8 4.7-7.9 4.8-7.8 4.5-8 4.1-8.3 3.2-8.7 2.4-9.1 1.4-9.5 .8-9.6 .5-9.7 .6-9.6 1-9.3 2-8.9 3-8.3 4.2-7.8 5.4-7.3 6.3-6.7 7-6.4 7.4zM553.9 1554.7l7-6.4 7-6.7 6.9-6.6 7.1-6 7.4-5.2 7.8-4.3 8.1-3.4 8.6-2.6 8.8-2.2 8.9-2.2 8.9-2.4 8.6-3 8.4-3.8 8-4.5 7.7-5.3 7.5-5.5 7.4-5.5 7.5-5.1 7.7-4.3 8.2-3.3 8.6-2.2 9.1-1.3 9.4-.7 9.7-.3 9.7-.4 9.5-1 9.2-2 8.8-3.1 8.2-4.4 7.7-5.4 7.2-6.2 7.1-6.7 6.9-6.7 7-6.4 7.1-6 7.4-5.3 7.7-4.7 7.9-4.1 8.1-3.8 8.3-3.5 8.3-3.5 8.3-3.6 8.2-3.7 8.2-3.7 8.3-3.6 8.2-3.5 8.4-3.2 8.5-2.8 8.7-2.4 8.8-2.2 9-2 9-2 8.9-2.2 8.8-2.4-1-3.5-8.7 2.5-8.9 2.1-8.9 2-9 2-8.9 2.2-8.8 2.5-8.7 2.8-8.5 3.3-8.4 3.5-8.2 3.6-8.2 3.7-8.3 3.7-8.2 3.5-8.4 3.6-8.3 3.5-8.2 3.8-8.1 4.3-7.9 4.8-7.6 5.5-7.3 6-7.1 6.6-6.9 6.7-7 6.6-7 6-7.4 5.2-7.8 4.2-8.3 2.9-8.7 1.9-9.3 1-9.5 .4-9.7 .3-9.7 .7-9.4 1.3-9 2.4-8.6 3.5-8.1 4.4-7.7 5.2-7.5 5.6-7.4 5.5-7.5 5.1-7.7 4.4-8.1 3.7-8.4 2.9-8.7 2.4-8.9 2.1-8.9 2.2-8.8 2.7-8.5 3.6-8.1 4.5-7.7 5.4-7.3 6.2-7 6.6-6.9 6.7-7.1 6.3zM995.7 1351.4l8.6-2.9 8.6-3.2 8.4-3.4 8.3-3.6 8.3-3.6 8.3-3.4 8.5-3.1 8.5-2.8 8.7-2.7 8.7-2.8 8.6-3 8.5-3.5 8.2-4.2 7.9-5 7.5-5.8 7.2-6.3 7-6.6 7.1-6.4 7.2-5.7 7.5-4.9 8-3.7 8.5-2.4 9-1.3 9.6-.3 9.9 .2 10 .4 9.9-.1 9.7-.8 9.3-1.9 8.7-3 8.4-4.1 7.9-4.8 7.6-5.2 7.6-5.2 7.7-4.8 7.9-4.1 8.2-3.5 8.5-2.8 8.8-2.3 8.9-2.2 8.9-2.4 8.7-3 8.4-3.7 8.1-4.6 7.6-5.5 7.3-6.2-2.3-2.7-7.2 6-7.4 5.3-7.7 4.5-8.1 3.6-8.5 2.8-8.7 2.4-8.9 2.2-8.9 2.4-8.8 2.8-8.5 3.6-8.1 4.3-7.9 4.9-7.6 5.2-7.6 5.1-7.7 4.7-7.9 3.9-8.4 2.9-8.8 1.8-9.3 .8-9.8 .1-9.9-.4-10-.2-9.9 .4-9.5 1.3-9 2.6-8.4 3.9-7.9 5-7.5 6-7.1 6.5-7 6.5-7.1 6.2-7.3 5.6-7.6 4.9-7.9 4.1-8.2 3.4-8.5 2.9-8.7 2.7-8.7 2.7-8.6 2.9-8.6 3.2-8.4 3.4-8.3 3.5-8.3 3.6-8.3 3.5-8.5 3.1-8.6 2.8zM584.8 1555.8l7.4-6 7.5-5.5 7.6-5.1 8-4.2 8.3-3.6 8.5-3 8.8-2.6 8.9-2.5 8.9-2.8 8.7-3.3 8.4-3.8 8.2-4.5 7.9-5 7.7-5.2 7.8-5.1 7.7-4.8 7.5-5.5-.2-.2-8.8 2.9-8.1 4.6-7.9 5.1-7.7 5.2-7.8 4.9-7.9 4.3-8.2 3.8-8.5 3.2-8.7 2.7-8.9 2.6-8.9 2.6-8.7 3-8.6 3.7-8.2 4.5-7.9 5.1-7.6 5.7-7.4 6zM747.6 1475.4l8 2 8.4 2.3 8.2 .8 7.5-1.2 7-2.1 6.7-2.7 6.4-3.3 6.1-4 5.9-4.4 5.7-4.7 5.6-4.9 5.5-4.8 5.7-4.4-2.2-2.9-5.7 4.5-5.7 4.9-5.5 4.8-5.6 4.7-5.7 4.3-5.9 3.8-6.1 3.1-6.4 2.6-6.6 2-6.9 1.1-7.6-.4-8.4-1.1-8.3-.3zM747.7 1475.4l6.5-3.2 6.1-3.7 6.2-2.7 6.6-1.7 7-1.5 7.1-1.6 6.9-1.8 6.9-2 6.8-2.2 6.6-2.5 6.6-2.5 6.6-2.8 6.4-3-1.5-3.3-6.4 3-6.4 2.7-6.5 2.6-6.6 2.3-6.7 2.2-6.7 2-6.9 1.8-6.9 1.6-7.1 1.5-7.1 1.8-6.5 3.6-5.6 4.6-5.5 4.6zM834.2 1444.1l7.8-4.6 7.9-4.2 8.1-4 8.2-3.8 8.2-3.9 8.2-4.1 8-4.4 7.9-5 7.5-5.5 7.4-5.9 7.3-5.9 7.3-5.8 7.5-5.2 7.7-4.4 8.2-3.4 8.6-2.3 9.1-1.3 9.5-.5 9.8 0 9.9 .1 9.9-.1 9.6-.7 9.4-1.5 9-2.4 8.7-3.2 8.3-3.9 8.1-4.3 7.9-4.4 8-4.5 7.9-4.3 8.1-4.1 8.1-4.1 8.1-4.1 8-4.4 7.9-4.7 7.8-5.1 7.5-5.5 7.4-5.7 7.4-5.7 7.5-5.3 7.6-4.7 8-3.9 8.4-2.9 8.8-1.8 9.3-1 9.6-.4 9.8-.5 9.8-.7 9.5-1.3 0-.3-9.6-.1-9.7-.3-9.9-.4-9.8 .4-9.5 1-9.3 2-8.8 3-8.3 4-7.9 4.9-7.6 5.4-7.5 5.7-7.3 5.7-7.5 5.4-7.6 5.1-7.8 4.6-7.9 4.3-8.1 4.1-8.1 4.1-8 4.2-8.1 4.3-7.9 4.4-7.9 4.5-8 4.2-8.1 3.8-8.3 3.1-8.7 2.3-9.1 1.4-9.4 .7-9.7 .1-9.9-.1-9.9 0-9.8 .5-9.4 1.4-9.1 2.4-8.6 3.6-8 4.5-7.7 5.4-7.4 5.9-7.3 5.9-7.3 5.8-7.5 5.4-7.6 4.9-7.9 4.4-8 4-8.2 3.8-8.2 3.8-8.2 4.1-8.1 4.3-7.9 4.6zM1275.6 1265.7l8.6-3.5 8.3-4.2 7.9-4.8 7.9-4.7 8-4.3 8.2-4 8.3-3.6 8.4-3.6 8.5-3.7 8.3-4 8.2-4.4 7.9-5 7.8-5.4 7.5-5.6 7.6-5.6 7.6-5.3 7.7-4.8 8.1-4.1 8.3-3.5 8.6-2.8 8.9-2.3 9-2.2 9.1-2.3 8.9-2.8 8.6-3.3 8.4-3.9 8.2-4.5 7.9-4.8-1.8-3-7.9 4.7-8 4.4-8.2 3.8-8.4 3.2-8.7 2.7-8.9 2.3-9.1 2.2-9 2.4-8.8 2.9-8.7 3.5-8.2 4.3-8 4.9-7.7 5.4-7.6 5.6-7.5 5.6-7.7 5.3-7.7 4.9-8 4.3-8.2 3.9-8.4 3.7-8.4 3.6-8.4 3.7-8.3 4-8.2 4.4-8 4.7-7.9 4.8-7.5 5.4-7.6 5.1zM625 1556.7l6.8-7.2 7-6 7.6-4.8 8.2-3.4 8.7-2.3 9.1-1.7 9.3-1.3 9.3-1.6 9.1-2.2 8.8-3.1 8.2-4.3 7.4-5.7-.1-.2-8.5 3.5-8.3 3.4-8.5 2.9-8.8 2.2-9.2 1.5-9.3 1.4-9.3 1.6-9.1 2.5-8.6 3.6-8.1 5.1-7.4 6.3-6.9 7.3zM750 1497.2l8.6-3.2 8.8-2.3 9.1-1.5 9.4-1.2 9.6-1 9.6-1.1 9.5-1.7 9.1-2.6 8.6-3.9 8.1-5 7.6-6 7.2-6.8 7-7 7-6.8 7.2-6.4 7.4-5.5 7.8-4.8 8.2-3.8 8.5-3.3 8.7-2.8 8.9-2.6 8.9-2.7 8.8-2.9 8.7-3.3 8.5-3.4 8.5-3.6 8.5-3.5 8.5-3.3 8.7-3 8.8-2.5 9-2.1 9.2-1.7 9.3-1.7 9.3-1.6 9.3-1.9 9.2-2.2 8.9-2.7 8.8-3.2 8.5-3.7 8.4-4 8.1-4.4 7.9-4.9 7.8-5.1 7.6-5.4-.1-.2-8.4 4.1-8.2 4.3-8.2 4.1-8.2 4.3-8.2 4-8.4 3.5-8.5 3.2-8.8 2.6-9 2.2-9.1 1.8-9.3 1.7-9.3 1.6-9.3 1.8-9.2 2.2-9 2.5-8.8 3-8.7 3.3-8.5 3.6-8.4 3.6-8.5 3.4-8.6 3.2-8.7 2.9-8.9 2.6-8.8 2.7-8.9 2.8-8.7 3.3-8.5 4.1-8.1 4.9-7.7 5.7-7.3 6.5-7.1 7-7 6.9-7.1 6.6-7.3 5.9-7.7 4.8-8.2 3.6-8.7 2.5-9.1 1.7-9.5 1-9.6 1-9.6 1.3-9.2 2.4-8.7 3.4-8.2 4.4zM1134.4 1339.4l9.2-4.6 9.1-4.8 8.7-5.3 8.7-5.2 8.9-4.9 9-4.4 9.3-3.8 9.5-3.1 9.6-3.2 9.9-3.1 0-.3-10.4 1.2-10.1 1.9-9.8 3.3-9.5 3.9-9.2 4.4-9 5-8.8 5.2-8.7 5.4-8.3 6-8.2 6.2zM1134.9 1341l6.8-2.4 7-1.7 7.1-1.7 7.2-1.6 7.2-1.7 7.1-1.9 7.1-2.1 6.9-2.4 6.8-2.7 6.7-3.6 6-4.9 5.5-5.8 5.3-5.7 5.8-4.5-2.2-2.9-6 4.8-5.5 5.9-5.3 5.5-5.6 4.7-6.2 3.2-6.6 2.6-6.8 2.4-6.9 2.1-7 1.8-7.1 1.7-7.1 1.6-7.2 1.7-7.2 1.8-7 2.4zM1241.3 1294.2l9.3-1.2 9.2-1.7 9-2.2 8.8-3.1 8.5-3.4 8.3-3.8 8.4-3.8 8.3-3.6 8.4-3.4 8.6-3 8.7-2.8 8.8-2.6 8.8-2.7 8.8-3 8.5-3.8 8.1-4.6 7.8-5.5 7.3-6.4 7-7 6.9-7.3 6.8-7 7-6.5 7.4-5.5 7.8-4.3 8.3-3.2 8.8-2.1 9.2-1.4 9.5-1 9.5-1.1 9.4-1.7 9.1-2.5 8.7-3.4 8.2-4.3 8-4.9 7.7-5.1 7.8-4.9 7.9-4.3 8.2-3.5 8.7-2.5 9.1-1.8-.7-3.5-9.3 1.8-9 2.6-8.6 3.6-8.2 4.5-7.8 5-7.8 5.1-7.7 4.8-8 4.1-8.3 3.3-8.8 2.4-9.1 1.6-9.4 1.1-9.5 1-9.5 1.4-9.2 2.3-8.7 3.3-8.3 4.6-7.7 5.7-7.2 6.7-6.9 7.1-6.9 7.3-6.8 6.8-7.2 6.2-7.4 5.4-7.9 4.4-8.2 3.6-8.5 3-8.7 2.7-8.9 2.6-8.8 2.8-8.7 3-8.5 3.5-8.4 3.7-8.3 3.7-8.3 3.7-8.4 3.5-8.6 3-8.6 3-8.8 2.7-9 2.5zM1575.8 1148.4l9.3-1.2 9.5-1.2 9.4-1.5 9-2.4 8.7-3.7 8-5.1 7.3-6.4 6.9-7.3 6.6-7.8 6.5-7.8 6.8-7.1-2.6-2.5-6.9 7.2-6.6 7.8-6.5 7.8-6.7 7.1-7 6.1-7.5 4.8-8.1 3.5-8.7 2.3-9.1 1.5-9.4 1.1-9.4 1.2zM698.3 1552.7l8.6-2.8 8.6-2.7 8.7-2.6 8.7-2.6 8.7-2.6 8.7-2.6-1-3.5-8.7 2.7-8.7 2.6-8.7 2.5-8.7 2.7-8.7 2.7-8.6 2.8zM750.3 1536.8l8.9-2.9 8.8-3.1 8.7-3.3 8.6-3.7 8.4-4 8.3-4.3 8.2-4.6 8-4.9 7.9-5.1 7.9-5.4 7.7-5.4 7.8-5.4 7.7-5.4 7.8-5.1 7.9-4.9 8.1-4.6 8.2-4.1 8.4-3.7 8.5-3.3 8.8-3 8.8-2.7 9-2.6 9-2.4 9-2.5 9-2.5 9-2.6 9-2.5 9-2.6 9-2.5 9-2.4 8.9-2.8 9-2.8 8.9-3-.1-.3-9.2 1.7-9.2 1.8-9.2 1.9-9.1 2.5-9 2.5-9 2.5-9 2.6-8.9 2.5-9 2.5-9.1 2.5-9 2.5-9 2.5-8.9 2.8-8.9 3-8.7 3.4-8.5 3.8-8.4 4.2-8.2 4.6-8 4.9-7.9 5.2-7.8 5.4-7.7 5.5-7.8 5.4-7.7 5.3-7.9 5.1-7.9 4.8-8.1 4.6-8.2 4.2-8.3 3.9-8.4 3.6-8.6 3.4-8.7 3-8.9 2.9zM1057.6 1408.1l8.7-3.2 8.5-4 8.2-4.7 7.8-5.3 7.7-5.7 7.7-5.6 7.7-5.3 7.8-4.9 8.1-4.4 8.3-3.8 8.6-3.3 8.7-2.9 8.9-2.7 9-2.6 8.9-2.7 8.9-3 8.7-3.2 8.7-3.4 8.6-3.4 8.6-3.2 8.7-3 8.9-2.5 9.1-2.1 9.3-1.7 9.4-1.6 9.4-1.6 9.3-2 9.1-2.7 8.8-3.5 8.4-4.4 7.9-5.3 7.6-6 7.1-6.8 7-6.8 6.9-6.8-.2-.2-7.8 5.7-7.7 6.1-7.6 6-7.4 5.9-7.7 5.1-8 4.3-8.4 3.3-8.9 2.6-9.1 1.9-9.3 1.7-9.4 1.5-9.4 1.8-9.3 2.1-9 2.6-8.9 3-8.7 3.3-8.6 3.4-8.7 3.3-8.6 3.2-8.8 2.9-8.8 2.8-9 2.6-8.9 2.7-8.9 2.9-8.8 3.4-8.5 3.9-8.3 4.5-8 5-7.8 5.4-7.7 5.6-7.6 5.6-7.7 5.4-7.7 5.3-7.9 4.8-8.1 4.4zM1359.2 1269.1l8.1-4.4 8.2-3.9 8.4-3.4 8.4-3.3 8.5-3.2 8.5-3.3 8.4-3.7 8.3-4.1 8-4.5 7.9-4.7 7.9-4.8 7.8-4.5 8.1-3.9 8.4-3.2 8.7-2.3 9-1.6 9.4-1.1 9.6-.8 9.5-.9 9.4-1.5 9.1-2.4 8.7-3.5 8.1-4.6 7.7-5.6 7.4-6.1 7.2-6.3 7.2-6.1 7.4-5.6 7.6-4.9 8-4.1 8.3-3.4 8.5-3 8.7-2.8 8.6-3.2 8.5-3.6 8.2-4.3 7.9-5 7.6-5.5 7.5-5.5 7.6-5.2 7.7-4.6 8.2-3.6 8.6-2.4 9.1-1.3 9.6-.4 9.9 .2 10.1 .3 9.9 0 9.7-1 9.3-2.1 8.7-3.4 8.2-4.4 7.8-5.3 7.5-5.6 7.5-5.5 7.6-5 7.9-4.2 8.3-3.4 8.6-2.7 8.9-2.2 9-2.3 8.8-2.6-1-3.5-8.8 2.6-8.9 2.3-9 2.3-8.8 2.7-8.6 3.5-8.2 4.4-7.8 5.1-7.6 5.6-7.5 5.6-7.5 5.1-7.9 4.3-8.2 3.2-8.8 2-9.3 .9-9.8 0-10-.3-10.1-.2-9.8 .4-9.6 1.4-9.1 2.5-8.5 3.8-8 4.7-7.8 5.4-7.5 5.5-7.5 5.4-7.7 4.8-7.9 4.2-8.3 3.6-8.5 3.1-8.6 2.8-8.7 3.1-8.5 3.5-8.3 4.2-7.9 5-7.6 5.8-7.3 6.2-7.1 6.3-7.3 6-7.4 5.3-7.8 4.4-8.2 3.3-8.7 2.4-9.1 1.4-9.5 1-9.5 .8-9.6 1-9.3 1.6-9.1 2.5-8.6 3.3-8.3 4-8.1 4.6-7.8 4.8-7.9 4.7-7.9 4.4-8.1 4.1-8.2 3.5-8.5 3.3-8.5 3.3-8.5 3.3-8.2 4.2-7.9 4.9-7.3 5.6zM780 1557.5l7.1-6.5 6.8-7.5 6.5-7.5 6.7-7 7.1-6 7.5-4.7 8.1-3.4 8.6-2.4 8.9-1.9 9.1-2 8.9-2.5 8.6-3.6 8-4.7 7.6-5.8 7.1-6.4 7.1-6.3 7.2-5.8 7.5-4.6 8.2-3.1 8.8-1.5 9.5-.2 10.1 .7 10.3 1.1 10.3 .7 9.9-.2 9.4-1.8 8.8-3.3 8-4.8 7.5-5.8 7.3-6 6.9-6.3 7-6-.2-.2-8.3 4.2-7.7 5.5-7.2 6-7.3 5.6-7.6 4.5-8.2 3.1-8.8 1.7-9.5 .2-10-.7-10.3-1.1-10.3-.7-9.9 .2-9.5 1.7-8.7 3.3-8.1 4.9-7.4 5.9-7.2 6.5-7 6.2-7.3 5.6-7.6 4.5-8.2 3.4-8.6 2.4-8.9 1.9-9.1 2-8.9 2.5-8.6 3.6-8 5-7.4 6.3-6.8 7.2-6.6 7.5-6.6 7.3-7 6.4zM1055.9 1425.7l9.1-1.5 9.3-1.2 9.4-1.2 9.1-2.3 8.8-3.4 8.2-4.8 7.5-6 7.1-6.9 6.9-7.2 6.9-6.8 7.2-5.8 7.7-4.4 8.3-2.9 9.1-1.3 9.7-.3 10 .4 10.2 .3 9.9-.3 9.6-1.5 9-2.8 8.4-4.1 8-4.9 7.7-5.3 7.7-5.1 7.8-4.4 8.2-3.5 8.7-2.5 9-1.8 9.3-1.5 9.4-1.7 9-2.5 8.7-3.7 8-5.1 7.4-6.5 6.9-7.5 6.6-7.9 6.5-7.6 6.8-6.9 7.3-5.7 7.7-4.3 8.4-3 8.9-1.9 9.3-1.4 9.4-1.2 9.3-1.8 9.1-2.5 8.6-3.5 8.3-4.4 7.9-4.8 7.8-4.9 7.9-4.5 8.1-3.7 8.5-2.9 9-1.9 9.3-1.2 9.5-.9 9.5-1.2 9.4-1.9 8.9-3 8.3-4.4 7.5-5.9 6.9-6.9 6.5-7.5-.2-.2-7.4 6.5-7.5 6-7.6 5-7.9 4.1-8.5 2.8-8.9 1.8-9.4 1.2-9.5 .9-9.5 1.3-9.3 2-8.9 2.9-8.5 3.9-8 4.6-7.9 4.9-7.8 4.8-8 4.2-8.3 3.4-8.7 2.4-9 1.7-9.4 1.3-9.4 1.4-9.3 2-8.8 3.1-8.3 4.6-7.7 6-7 7.1-6.7 7.8-6.5 7.8-6.7 7.3-7.1 6.2-7.5 4.8-8.1 3.5-8.7 2.4-9.2 1.7-9.3 1.5-9.3 1.8-9 2.6-8.6 3.7-8.1 4.5-7.8 5.2-7.7 5.3-7.7 4.8-8 3.9-8.5 2.6-9.1 1.4-9.6 .3-10.1-.3-10.1-.4-10 .3-9.6 1.4-9 3.1-8.3 4.7-7.5 6.1-7.1 7-6.8 7.2-6.9 6.7-7.3 5.8-7.7 4.5-8.3 3.2-8.8 2.3-9 2-9.2 2.2-8.9 2.8zM1591 1191.2l7.8-5.8 7.7-5.2 7.6-4.6 8.2-3.7 8.5-2.9 8.8-2.5 8.9-2.4 8.8-2.8 8.7-3.3 8.4-3.9 8.1-4.3 8-4.6 7.9-4.4 8.1-3.8 8.4-3.1 8.8-2.2 9.2-1.3 9.6-.7 9.7-.3 9.8-.5 9.7-.9 9.3-1.8 9-2.8 8.5-3.8 8-4.7 7.8-5.1 7.7-5.4 7.6-5.1 7.8-4.8 8-4.2 8.2-3.8 8.4-3.4 8.5-3.4 8.4-3.5 8.4-3.8 8.2-4.3 7.9-4.8 7.9-4.9 7.7-5.1-1.9-3-7.8 5-7.7 5-7.9 4.6-8 4.2-8.2 3.8-8.4 3.5-8.5 3.3-8.5 3.5-8.3 3.9-8.2 4.3-7.9 4.9-7.8 5.2-7.6 5.3-7.7 5.1-7.8 4.5-8.1 3.6-8.6 2.7-8.9 1.7-9.4 1-9.7 .4-9.8 .3-9.8 .7-9.5 1.4-9.1 2.2-8.8 3.3-8.3 3.9-8.1 4.5-8 4.5-7.9 4.3-8.2 3.8-8.4 3.2-8.7 2.7-8.9 2.4-8.9 2.5-8.7 3.1-8.5 3.8-8.1 4.9-7.2 6.3-6.4 7.4zM815.9 1550.1l7.4-5.6 7.6-5.1 7.8-4.5 8.1-3.8 8.3-3.4 8.5-2.9 8.7-2.7 8.8-2.5 8.7-2.7 8.7-2.8 8.6-2.9 8.6-3 8.6-3.1 8.6-2.8 8.6-2.6 8.9-2.3 8.9-1.9 9.1-1.7 9.2-1.6 9.2-1.7 9.1-2.1 8.8-2.6 8.6-3.4 8.3-4 8-4.8 7.7-5.2 7.5-5.5 7.5-5.4 7.6-5.2 7.7-4.8 7.9-4.3 8.1-3.9 8.3-3.4 8.5-3.2 8.5-3.2 8.5-3.3 8.4-3.5 8.3-3.7 8.2-3.8 8.2-3.9 8.3-3.6 8.3-3.3 8.6-2.7 8.8-2.2 9-1.6 9.3-1.2 9.4-1.1 9.4-1.2 9.3-1.6 9.1-2.3 8.7-3 8.4-3.9 8-4.6 7.8-5.1 7.6-5.4 7.5-5.3 7.6-5.2 7.7-4.8 8-4.4-1.8-3.1-8 4.4-7.8 4.9-7.7 5.2-7.6 5.4-7.5 5.3-7.6 5-7.8 4.5-8.1 3.8-8.4 2.9-8.8 2.2-9.1 1.5-9.3 1.2-9.4 1.1-9.4 1.2-9.3 1.7-9 2.2-8.8 2.8-8.5 3.3-8.4 3.7-8.2 3.9-8.2 3.8-8.2 3.7-8.4 3.5-8.4 3.2-8.5 3.2-8.5 3.2-8.4 3.5-8.3 3.9-8.1 4.5-7.9 4.9-7.6 5.3-7.6 5.4-7.5 5.5-7.5 5.1-7.8 4.6-8 3.9-8.3 3.3-8.6 2.5-8.9 2.1-9.1 1.7-9.2 1.6-9.2 1.7-9.1 1.9-8.9 2.3-8.8 2.6-8.7 2.9-8.6 3.1-8.5 3-8.6 2.9-8.7 2.8-8.7 2.6-8.7 2.6-8.8 2.7-8.7 3-8.5 3.4-8.3 4-8 4.6-7.7 5.2-7.5 5.6zM1311.2 1348.8l8.1-4.1 8.1-3.9 8.2-4 8.1-4.1 7.9-4.6 7.8-4.9 7.7-5.3 7.5-5.4 7.5-5.3 7.6-5 7.8-4.3 8.1-3.6 8.5-2.7 8.8-2.1 9.1-1.4 9.3-1.2 9.4-1.2 9.3-1.6 9-2.1 8.8-2.9 8.4-3.7 8.1-4.2 8-4.6 7.8-4.7 7.8-4.6 7.9-4.3 8.1-3.9 8.2-3.6 8.4-3.3 8.4-3.4 8.3-3.7 8.2-4.2 7.9-4.8 7.7-5.4 7.4-5.8 7.2-6.1 7.2-5.9 7.4-5.5 7.6-4.8 8-3.8 8.4-2.9 8.8-2 9.1-1.4 9.4-1 9.4-1 9.4-1.3 9.1-1.8 8.9-2.5 8.7-3.1 8.4-3.5 8.2-3.7 8.3-3.6 8.3-3.2 8.6-2.8 8.7-2.4 8.9-2.1 9-1.9 9-2.3 8.6-3.1 8.3-4 7.7-5-.2-.2-8.2 3.7-8.5 3-8.7 2.2-8.8 2.1-9 2-9 2.1-8.9 2.4-8.7 2.9-8.5 3.3-8.3 3.6-8.2 3.7-8.3 3.4-8.5 3-8.6 2.5-8.9 1.8-9.2 1.3-9.4 .9-9.5 1.1-9.3 1.4-9.1 2-8.8 3.1-8.3 4-7.9 4.9-7.6 5.6-7.3 6-7.2 6.1-7.3 5.7-7.5 5.3-7.6 4.7-8 4-8.2 3.6-8.4 3.4-8.4 3.4-8.3 3.6-8.2 4-8.1 4.3-7.9 4.7-7.8 4.7-7.8 4.5-7.9 4.2-8.2 3.5-8.5 2.8-8.8 2.1-9 1.5-9.3 1.2-9.4 1.2-9.3 1.5-9.1 2.1-8.8 2.9-8.4 3.7-8.1 4.4-7.7 5.1-7.6 5.4-7.5 5.4-7.6 5.2-7.6 4.8-7.9 4.5-8 4.1-8.1 4-8.1 3.9-8.1 4.1zM1829.7 1126.6l6.4-3.4 6.5-3.3 6.4-3.3 6.3-3.5 6.3-3.3 6.4-3.1 6.6-2.8 6.6-2.6 6.7-2.4 6.9-2.3 6.8-2.4 6.8-2.4 6.8-2.7 6.4-3.2 6.4-3.5 6.2-3.7-.1-.3-6.8 2.5-6.7 2.6-6.7 2.4-6.7 2.5-6.8 2.4-6.8 2.3-6.8 2.4-6.9 2.4-6.7 2.6-6.7 2.9-6.5 3.2-6.4 3.3-6.3 3.7-6.1 4.1-5.9 4.2-5.8 4.5zM1829.7 1126.6l5.8-5.3 5.6-6 5.4-6.1 5.1-6.1 5.3-5.4 5.6-4.7 6-3.8 6.3-2.8 6.7-1.9 7.2-1.2 7.4-.5 7.7-.2 7.8-.2 7.8-.6 7.6-1.1 7.1-2 0-.3-7.3 .7-7.6 .1-7.7-.2-7.7 0-7.8 .2-7.7 .6-7.5 1.2-7.2 2-6.8 3.1-6.4 4-5.9 4.9-5.5 5.7-5.3 6.2-4.7 6.7-4.7 6.6-4.8 6.2zM1960.3 1067.2l8.9-2.3 8.4-3.3 8.5-2.7 8.9-2.1-.8-3.5-9 2.1-8.8 2.8-8.6 3.4-7.6 5.3zM867.2 1551.3l8.6-2.9 8.6-2.9 8.6-3 8.6-3.1 8.6-2.9 8.6-2.7 8.8-2.2 9-1.8 9.2-1.4 9.4-.9 9.5-.7 9.6-.8 9.5-1.3 9.1-2 8.8-3.1 8.3-4.3 7.8-5.4 7.3-6.4 6.9-6.9 6.9-7 6.9-6.8 7.1-6 7.4-5.1 7.9-4.1 8.3-3 8.8-2.3 9-1.6 9.2-1.5 9.3-1.6 9.1-2 8.9-2.5 8.6-3.2 8.4-3.7 8.2-3.9 8.2-3.9 8.2-3.8 8.3-3.3 8.5-2.9 8.6-3.1 8.7-3 0-.2-9.2 1.1-9.1 1.8-8.7 2.9-8.6 3.4-8.3 3.8-8.1 4-8.2 3.9-8.2 3.5-8.4 3.1-8.7 2.5-8.9 2-9.1 1.6-9.3 1.4-9.2 1.7-9.1 2.3-8.7 3.2-8.3 4.3-7.7 5.3-7.4 6.3-7 6.8-6.8 7.1-6.9 6.8-7.1 6.1-7.4 5.2-7.8 4.1-8.4 2.9-8.8 2-9.2 1.2-9.4 .8-9.6 .8-9.5 .9-9.4 1.3-9.2 1.8-9 2.4-8.8 2.7-8.6 2.9-8.6 3.1-8.5 3-8.6 2.9-8.6 2.9zM1223.2 1418.6l9.1-1.7 9-2.4 8.7-3 8.3-4 8.1-4.5 8-4.7 7.9-4.8 7.8-4.7 8-4.5 8.1-4.2 8.1-4.2 8.2-4.1 8.1-4.4 8-4.7 7.8-5.2 7.6-5.6 7.4-6 7.3-6.1 7.4-5.8 7.5-5.3 7.8-4.3 8.3-3.4 8.7-2.2 9.3-1.2 9.6-.3 9.9 0 10 0 9.9-.4 9.6-1.4 9.1-2.4 8.6-3.7 8.1-4.9 7.6-5.6 7.4-6.2 7.2-6.3 7.3-6 7.4-5.6 7.7-5 7.9-4.4 8.2-3.9 8.3-3.6 8.4-3.5 8.4-3.7 8.3-4 8.2-4.2 8-4.5 8-4.5 8.1-4.3 8.1-4 8.3-3.5 8.5-3 8.8-2.4 9-2.1 9.1-1.9 9.1-2 9.1-2.2 8.9-2.6 8.7-3 8.5-3.4 8.5-3.5 8.4-3.6 8.4-3.3 8.6-2.8 8.8-2.4 9-2 9.2-1.7 9.2-1.7 9.2-2.1 8.8-2.7-1-3.4-8.7 2.6-9 2.1-9.2 1.7-9.2 1.7-9.2 2-8.9 2.4-8.8 3-8.6 3.3-8.4 3.5-8.4 3.6-8.5 3.3-8.5 3-8.8 2.6-8.9 2.1-9.1 2-9.1 1.9-9.1 2.1-8.9 2.5-8.8 3-8.5 3.6-8.3 4.1-8.1 4.4-8 4.5-8 4.4-8.1 4.2-8.2 3.9-8.3 3.7-8.4 3.5-8.4 3.7-8.3 3.9-8.2 4.5-7.8 5.1-7.6 5.7-7.4 6.2-7.2 6.3-7.3 6-7.4 5.5-7.7 4.6-8.2 3.6-8.7 2.3-9.1 1.3-9.7 .4-9.9 0-9.9 0-9.9 .4-9.6 1.2-9.2 2.3-8.7 3.5-8.2 4.6-7.8 5.4-7.4 5.9-7.3 6.1-7.4 5.9-7.4 5.6-7.7 5.1-7.8 4.6-8.1 4.3-8.1 4.1-8.2 4.2-8.1 4.2-8.1 4.6-7.9 4.7-7.9 4.8-7.9 4.7-7.9 4.4-8.1 4-8.2 3.7-8.5 3.3-8.7 3zM1803.3 1173.2l8.5-3.7 8.1-4.7 7.6-5.9 7.2-6.6 7-7.1 6.8-7.1 7-6.7 7.2-5.9 7.6-4.8 8.1-3.6 8.6-2.4 9.2-1.5 9.4-.8 9.7-.5 9.8-.6 9.6-1 9.3-1.6 9.1-2.3 8.9-2.9 8.5-3.4 8.4-3.7 8.4-3.7 8.3-3.7 8.4-3.5 8.4-3.4 8.5-3.5 8.4-3.7 8.3-4 8.1-4.5 7.9-4.9 7.7-5.5 7.5-5.7-2.1-2.8-7.5 5.6-7.6 5.4-7.7 4.8-7.9 4.4-8.2 4-8.3 3.6-8.4 3.4-8.5 3.5-8.4 3.5-8.4 3.7-8.3 3.7-8.4 3.7-8.4 3.3-8.6 2.8-8.8 2.2-9.1 1.6-9.4 1-9.7 .6-9.7 .5-9.7 .8-9.4 1.5-9.1 2.6-8.6 3.8-8 5.1-7.5 6.1-7.1 6.8-6.9 7.2-6.9 7-7 6.5-7.3 5.6-7.8 4.5-8.2 3.6zM956.1 1551.5l9-2.4 9-2.5 8.9-2.4 9-2.4 8.9-2.5-.9-3.5-9 2.5-8.9 2.4-9 2.5-8.9 2.4-9 2.4zM1000.9 1539.3l9-2.6 8.9-2.7 8.8-3.1 8.7-3.3 8.5-3.7 8.4-4 8.3-4.2 8.2-4.3 8.1-4.4 8.2-4.4 8.1-4.3 8.2-4.4 8.2-4.4 8.1-4.5 8.1-4.6 8-4.8 8-4.8 7.9-4.8 8-4.6 8.2-4.1 8.3-3.6 8.7-2.9 8.9-2.2 9.3-1.5 9.5-1 9.6-1.3 9.6-1.6 9.4-2.1-.1-.3-9.5 .8-9.6 .4-9.7 .5-9.7 1-9.5 1.6-9.2 2.2-8.9 3-8.6 3.7-8.4 4.3-8.1 4.6-8 4.8-7.9 4.9-8 4.7-8 4.6-8.1 4.5-8.2 4.3-8.1 4.4-8.2 4.3-8.2 4.4-8.1 4.4-8.2 4.3-8.2 4.2-8.3 3.9-8.4 3.6-8.5 3.3-8.7 3-8.8 2.8-9 2.5zM1248.2 1439.2l9-2.3 8.7-3.4 8.3-4.4 7.8-5.2 7.7-5.4 7.7-5.3 7.8-4.9 8-4.3 8.2-3.8 8.5-3.2 8.7-3.1 8.7-3.1 8.6-3.6 8.3-4.4 7.9-5.3 7.5-6.1 7.2-6.8 7-7 7-6.9 7.1-6.2 7.6-5.1 8-3.8 8.7-2.4 9.2-1.2 9.8-.3 10 .1 10 0 9.9-.7 9.5-1.8 8.9-3.1 8.4-4.3 7.9-5.3 7.6-5.7 7.5-5.9 7.3-5.7 7.6-5.1 8.1-4.3-.1-.2-8.7 3.1-8.3 4.3-8 5.1-7.6 5.8-7.4 5.7-7.7 5.1-8 4.1-8.4 2.9-9.1 1.7-9.5 .7-9.9 0-10.1-.1-10 .3-9.6 1.3-9.2 2.6-8.6 4-7.9 5.4-7.5 6.4-7.1 6.9-6.9 7-7 6.7-7.3 5.9-7.6 5.1-8.1 4.2-8.3 3.5-8.6 3.1-8.7 3.1-8.7 3.3-8.4 3.8-8.3 4.5-7.9 5-7.7 5.4-7.7 5.4-7.7 5.2-7.7 4.9-8 4.3-8.5 3.5zM1584.5 1282.6l9.1-1.5 8.9-2.5 8.5-3.7 7.8-5.2 7.3-6.3 6.9-7 6.7-7.2 6.8-6.9 7-6 7.5-4.8 8-3.4 8.7-1.9 9.2-.8 9.8 0 10 .4 9.9 .2 9.8-.4 9.5-1.4 9-2.5 8.5-3.5 8.1-4.4 7.8-4.7 7.8-4.7 7.9-4.3 8-3.6 8.4-2.9 8.8-2.3 8.9-1.9 9.1-1.7 9-2.1 8.9-2.7 8.5-3.5 8.1-4.6 7.6-5.6 7.2-6.2 7.1-6.6 6.9-6.6 7.1-6.1 7.4-5.3 7.6-4.5 8.1-3.5 8.6-2.6 8.8-1.9 9.1-1.5 9.3-1.4 9.2-1.5 9.1-1.9 8.9-2.4 8.7-2.8 8.5-3.2 8.4-3.5 8.3-3.6 8.3-3.5 8.3-3.4 8.4-3.2 8.4-3.2 8.4-3.6 8.2-3.8 8.1-4.1-.2-.3-8.5 2.9-8.6 2.9-8.6 2.7-8.5 3.1-8.4 3.3-8.4 3.4-8.3 3.5-8.3 3.6-8.3 3.4-8.4 3.2-8.5 2.8-8.7 2.3-9 1.9-9.1 1.5-9.2 1.4-9.2 1.5-9.1 1.9-8.9 2.8-8.5 3.6-8 4.6-7.6 5.6-7.3 6.3-7 6.6-7 6.5-7 6.1-7.4 5.3-7.7 4.4-8.1 3.5-8.6 2.5-8.8 2-9.1 1.8-9.1 1.9-8.9 2.3-8.7 3-8.3 3.8-8.1 4.4-7.8 4.7-7.8 4.7-7.9 4.2-8.1 3.4-8.6 2.4-9 1.3-9.5 .4-9.8-.2-10-.4-10 0-9.7 .8-9.2 2.1-8.6 3.6-7.9 5.1-7.4 6.3-6.9 7-6.7 7.2-6.8 6.9-7 6.1-7.4 5-7.7 4.3-8.3 3.4-8.7 2.7zM2104 1064.1l8.5-3.8 7.6-5.4-2.1-2.9-7.5 5.3-6.7 6.6zM1081.3 1521l7-6.5 7.3-5.4 7.7-4.3 8.3-3 8.9-1.8 9.3-.9 9.7-.3 9.8-.3 9.8-.5 9.5-1.2 9.2-2.1 8.8-3 8.3-3.9 8.1-4.5 7.9-4.6 7.9-4.6 7.9-4.3 8.2-3.8 8.4-3.2 8.5-2.9 8.8-2.6 8.7-2.7 8.7-3 8.5-3.6 8.3-4.2 7.9-4.8 7.7-5.4 7.4-5.7 7.4-5.9 7.4-5.7 7.5-5.5 7.6-5 7.8-4.7 8-4.2 8.1-4 8.2-3.9 8.2-3.7 8.3-3.8 8.2-3.9 8-4.2 8.2-4.1-.1-.2-8.8 2.5-8.6 3.1-8.4 3.5-8.3 3.8-8.2 3.8-8.3 3.8-8.2 4.1-8.1 4.3-7.9 4.7-7.8 5.2-7.6 5.5-7.4 5.8-7.4 5.8-7.4 5.7-7.5 5.3-7.7 4.7-8 4.1-8.3 3.4-8.5 3-8.7 2.6-8.7 2.7-8.8 2.9-8.5 3.3-8.4 3.9-8.1 4.3-7.9 4.7-7.9 4.6-7.9 4.4-8.1 3.7-8.4 2.9-8.8 2.1-9.3 1.1-9.5 .5-9.8 .3-9.8 .3-9.7 .9-9.3 1.9-8.8 3.2-8.2 4.5-7.7 5.8-7.1 6.6zM1444.1 1362.7l9.5-.8 9.6-.6 9.7-.6 9.6-1.2 9.4-1.8 9.1-2.6 8.7-3.8 8.2-5 7.7-5.9 7.2-6.8 7.1-7 7-6.9 7.2-6.4 7.5-5.5 7.9-4.4 8.3-3.5 8.8-2.6 9.1-2 9.2-1.9 9.2-2.1 9.1-2.7 8.7-3.5 8.4-4.2 8.1-4.8 7.9-5.1 7.8-5 8-4.5 8.3-3.9-1.5-3.2-8.4 3.9-8.2 4.6-7.9 5.1-7.9 5.1-7.9 4.7-8.1 4.1-8.5 3.3-8.8 2.6-9 2.1-9.3 1.9-9.2 2-9.1 2.7-8.7 3.6-8.3 4.7-7.8 5.7-7.3 6.6-7.1 7-7.1 7-7.1 6.5-7.4 5.8-7.7 4.7-8.3 3.6-8.7 2.5-9.2 1.7-9.4 1.2-9.6 1.5-9.5 1.6-9.3 2.3zM1680.2 1257.7l8.6-2.8 8.9-1.8 9.3-1.1 9.6-.4 9.8-.3 9.8-.4 9.6-.9 9.3-1.6 9-2.7 8.6-3.5 8.2-4.3 7.9-4.9 7.7-5.2 7.6-5.2 7.6-5.2 7.7-5 7.8-4.8 7.9-4.6 7.9-4.5 7.9-4.5 8-4.6 7.9-4.5 8-4.5 7.9-4.2 8.2-3.9 8.3-3.3 8.6-2.7 8.8-2.1 9.1-1.6 9.3-1.2 9.5-1.1 9.3-1.4 9.3-1.8 8.9-2.6 8.6-3.5 8.3-4.1 7.9-4.8 7.7-5.1 7.7-5.1 7.7-4.8 8-4.1 8.2-3.6 8.5-2.9 8.7-2.5 8.9-2.4 8.9-2.6 8.7-3.2 8.3-4.1 7.9-5.1 7.5-6.1 7-6.9 6.8-7.4 6.7-7.3 6.8-6.9 7.1-6 7.6-4.9-1.9-3-7.8 5.1-7.4 6.2-7 7-6.8 7.4-6.7 7.3-6.8 6.7-7.2 5.9-7.6 4.9-8 3.9-8.3 3.1-8.8 2.5-8.8 2.4-8.9 2.5-8.7 3-8.5 3.7-8.1 4.3-7.9 4.9-7.8 5.1-7.6 5-7.8 4.7-8 4.1-8.3 3.3-8.6 2.5-9 1.8-9.2 1.3-9.4 1.1-9.4 1.3-9.3 1.5-9.1 2.2-8.8 2.8-8.6 3.4-8.3 4-8.1 4.3-8 4.5-7.9 4.5-7.9 4.5-8 4.5-7.9 4.6-8 4.6-7.8 4.8-7.8 5.1-7.7 5.2-7.6 5.3-7.6 5.1-7.7 4.8-7.9 4.2-8.3 3.3-8.6 2.5-9 1.7-9.4 .8-9.6 .4-9.8 .3-9.8 .4-9.6 1.1-9.2 1.9-8.8 2.9zM1379.3 1414.9l7.8-4.5 8-3.8 8.3-3.3 8.5-2.8 8.6-2.6 8.8-2.5 8.7-2.6 8.6-2.9 8.5-3.2 8.4-3.4 8.3-3.5 8.3-3.4 8.4-3 8.6-2.7 8.7-2.2 9-1.9 9-1.7 9.1-1.9 9-2.2 8.7-3 8.3-4 7.9-5 7.4-6 7-6.7-2.5-2.6-6.9 6.6-7.1 5.8-7.5 4.8-8 3.8-8.3 2.8-8.8 2.2-9 1.8-9 1.8-9.1 1.9-8.9 2.2-8.7 2.7-8.6 3.2-8.4 3.4-8.3 3.4-8.3 3.4-8.4 3.2-8.5 2.8-8.6 2.7-8.8 2.5-8.7 2.6-8.7 2.8-8.4 3.4-8.3 3.9-7.9 4.6zM1581.3 1336l6.7-7.2 6.7-7.2 6.8-6.8 7-6.1 7.5-5 7.9-3.8 8.4-2.7 8.8-1.9 9.2-1.1 9.5-.8 9.5-.8 9.4-1.1 9.3-1.5 9-2.1 8.9-2.4 8.7-2.8 8.5-3 8.6-2.9 8.6-2.7 8.7-2.7 8.7-2.5 8.7-2.6 8.7-2.8 8.6-3.2 8.3-3.8 8.1-4.4 7.8-4.9 7.6-5.4 7.5-5.5 7.4-5.4 7.6-5 7.8-4.4 8-3.7 8.4-3.2 8.6-2.6 8.7-2.3 8.9-2.4 8.7-2.7 8.6-3.2 8.3-3.9 8-4.4-1.8-3.2-7.8 4.4-8.1 3.8-8.3 3.1-8.6 2.6-8.8 2.4-8.8 2.4-8.8 2.6-8.6 3.2-8.3 3.9-8 4.6-7.7 5.1-7.6 5.4-7.4 5.5-7.5 5.3-7.6 4.8-7.9 4.3-8.1 3.7-8.3 3.2-8.6 2.7-8.7 2.6-8.8 2.5-8.7 2.6-8.6 2.8-8.6 2.9-8.6 2.9-8.6 2.8-8.6 2.5-8.9 1.9-9.1 1.5-9.3 1.1-9.4 .8-9.5 .8-9.5 1.2-9.2 1.9-8.8 2.9-8.3 4-7.9 5.3-7.3 6.2-6.9 7-6.7 7.2-6.8 7.2zM1922.1 1193l11.8-7.6 11.6-7.6 12-6.6 12.8-4.6 13.6-2.7 14.3-1.3 14.6-1.2 14.3-2.4 13.2-5 11.8-7.4-.1-.3-12.6 5.7-13.2 3.6-13.8 2.2-14.5 1.2-14.5 1.3-14.1 2.8-13.3 4.8-12.3 6.8-11.8 7.7-11.8 7.6zM1921.7 1193.2l6.8-2.5 6.9-2.1 7.1-1.9 7.1-1.8 7.2-1.5 7.3-1.4 7.3-1.1 7.5-1 7.5-.9 7.5-1.1 7.5-1.2 7.3-1.5 7.2-2.1 6.9-2.8 6.6-3.4 6.4-4.1 6-4.8 5.7-5.1 5.7-5.1-2.4-2.7-5.7 5.1-5.6 5.1-5.8 4.6-6.1 3.9-6.3 3.3-6.6 2.6-6.9 2-7.1 1.5-7.3 1.2-7.5 1-7.5 .9-7.5 1-7.4 1.2-7.4 1.4-7.3 1.5-7.2 1.8-7.1 1.9-7.1 2.2-6.9 2.5zM2074.5 1129.2l8.4-4.8 7.3-5.8 7.5-5.5 7.6-5.2 7.8-4.9 7.8-4.8 7.9-4.8 7.8-4.8 7.8-5 7.8-4.8 7.8-4.7 8-4.2 8.2-3.7 8.5-2.8 8.9-2 9.3-1.3-.5-3.5-9.5 1.2-9.2 2.1-8.8 3-8.5 3.7-8.1 4.4-8 4.7-7.8 4.9-7.8 4.9-7.8 4.9-7.9 4.7-7.8 4.9-7.9 4.9-7.7 5.2-7.6 5.6-7.4 5.9-6.3 7.4zM1817.5 1265l7.2-6.1 7.3-6.1 7.3-5.7 7.5-5.1 7.8-4.5 8.1-3.8 8.4-3.2 8.6-2.9 8.7-2.7 8.7-2.6 8.8-2.7 8.7-2.7 8.7-2.8 8.6-2.8 8.8-2.5 8.8-2.2 9.1-1.8 9.1-1.6 9.3-1.4 9.2-1.6 9.2-2.1 8.9-2.7 8.5-3.8 8-4.8 7.6-5.9 7.1-6.7 6.8-7.3 6.7-7.4 6.7-7.1 7-6.5 7.3-5.5 7.7-4.5 8.1-3.5 8.5-2.9 8.8-2.8 8.8-2.8 0-.3-9.3 1.2-9.1 1.6-8.9 2.6-8.5 3.7-8.1 4.7-7.6 5.8-7.2 6.6-6.9 7.2-6.6 7.5-6.8 7.1-6.9 6.6-7.2 5.6-7.7 4.7-8.1 3.5-8.6 2.7-8.9 1.9-9.1 1.6-9.3 1.5-9.2 1.6-9.1 1.8-9 2.3-8.9 2.5-8.7 2.7-8.7 2.8-8.7 2.8-8.7 2.7-8.8 2.6-8.7 2.7-8.7 2.9-8.6 3.3-8.3 3.9-8.1 4.6-7.7 5.3-7.5 5.8-7.3 6.1-7.3 6.1zM2140 1115.4l8.9-2.8 8.3-4.2 8.1-4.6 7.9-4.6 8.1-4.2 8.3-3.7 8.6-3 8.8-2.5 9.1-2 9.2-1.9 9.2-1.9 9.1-2.2 8.9-2.8 8.7-3.4 8.4-4 8.2-4.4 8.1-4.7 8-4.7-1.9-3.1-8 4.7-7.9 4.6-8.1 4.4-8.2 3.8-8.4 3.4-8.8 2.7-8.9 2.2-9.2 1.9-9.2 1.9-9.2 2-9 2.5-8.8 3.2-8.5 3.7-8.3 4.3-8 4.7-8 4.6-7.9 4.7-7.7 5.1zM2071.3 1177.9l7.5-5.6 7.4-5.7 7.4-5.6 7.5-5.4 7.5-5.3 7.7-5 7.8-4.7 7.8-4.6 7.9-4.4 8-4.2 8.1-3.9 8.2-3.6 8.4-3.3 8.5-2.8 8.8-2.3 9-1.8 9.1-1.5 9.3-1.4 9.3-1.4 9.2-1.7 9-2.2 8.7-2.9 8.5-3.7 8.1-4.2 7.9-4.8 7.8-5 7.7-4.9 7.8-4.6 7.7-4.5 7.8-4.7-.1-.3-8.8 2.6-8.4 3.8-7.9 4.7-7.8 4.9-7.7 5-7.7 4.6-8 4.2-8.1 3.5-8.5 2.8-8.8 2.2-9 1.7-9.3 1.4-9.2 1.3-9.3 1.6-9.1 1.8-9 2.4-8.7 2.8-8.6 3.3-8.3 3.7-8.2 4-8.1 4.3-8 4.4-7.9 4.6-7.8 4.8-7.8 5-7.6 5.3-7.5 5.5-7.5 5.7-7.4 5.6-7.4 5.6zM2314.5 1092.7l7.5-5.9 7-6.9 6.9-7.1 6.9-6.5 7.3-5.3 8.1-3.7-1.5-3.3-8.4 3.9-7.8 5.6-7.2 6.8-6.8 7.1-6.9 6.7-7.3 5.8z"/>
<path clip-path="url(#cc)" d="M148.4 1336.7l8-4.3 8.7-2.5 9.2-1.6 9.6-1.2 9.5-1.7 9.1-2.8 8.5-4.2 7.9-5.2 7.6-5.6 7.6-5.3 7.9-4.4 8.4-3.1 9-1.9 9.5-1.1-.4-3.6-9.7 1.2-9.4 2-8.9 3.2-8.3 4.6-7.8 5.4-7.5 5.6-7.7 5.1-8 3.9-8.7 2.7-9.1 1.7-9.6 1.2-9.5 1.6-9.2 2.7-8.3 4.4zM113.7 1392.6l7.2-6.2 7.4-5.8 7.6-5.1 8-4.1 8.5-3.2 8.8-2.6 9-2.4 8.9-2.7 8.8-3.4 8.3-4.3 8-5 7.4-5.7 7.1-6-.1-.3-8.4 4.2-8 4.8-7.8 4.9-8 4.1-8.4 3.3-8.8 2.6-9 2.4-9 2.7-8.7 3.3-8.4 4.3-7.9 5.3-7.5 5.9-7.3 6.2zM238.7 1327.7l9.6-.4 9.6-.7 9.8-.9 9.5-1.8 9.1-3.1 8.3-4.9 7.5-6.4 6.9-7.4 6.7-7.7-2.7-2.4-6.7 7.7-6.7 7.2-7.1 6.1-7.7 4.5-8.5 2.9-9.1 1.7-9.6 1-9.7 1.3-9.2 3zM116.5 1428.4l8.4-3.4 8.2-4.2 7.9-4.8 7.4-5.9 7-6.5 6.9-6.7 7-6.4 7.1-5.7 7.6-4.5 8.1-3.3 8.7-2.2 9.2-1.4 9.4-1.1 9.3-1.4 9.2-2.1 8.7-3.2 8.2-4.2 7.9-4.8 7.6-5.1 7.6-4.8 7.8-4.4 8.1-3.7 8.4-3.2 8.6-2.9 8.5-3 8.4-3.8 8-4.4 7.5-5-.1-.3-8.2 3.9-8.3 3.4-8.5 2.9-8.5 2.9-8.6 3-8.6 3.2-8.3 3.8-8 4.5-7.8 4.9-7.6 5.1-7.6 4.7-7.9 4-8.4 3-8.7 2.1-9.2 1.3-9.4 1.1-9.4 1.5-9.1 2.2-8.6 3.5-8 4.9-7.5 5.8-7 6.6-6.9 6.6-7 6.4-7.1 5.9-7.2 5.4-7.6 4.9-7.8 4.7zM110.8 1459.3l7.9-5.5 8-5 8.2-4.7 8.2-4.7 8.3-4.8 8.1-4.8 8.2-4.7 8.4-4.2 8.6-3.4 9-2.7 9.3-2.5 9.5-2.5-.1-.3-9.8 .6-9.8 1.3-9.3 2.7-8.9 3.6-8.6 4.2-8.3 4.8-8.2 4.8-8.2 4.8-8.2 4.7-8.3 4.7-8.1 5.1-7.9 5.6zM231.4 1406l9.2-2.1 8.7-3.8 8-5.3 7.6-5.7 7.6-5.8 7.6-5.3 7.9-4.6 8.3-3.9 8.6-3.3 8.8-3.1 8.7-3.3 8.6-3.8 8.3-4.4 8.1-4.9 7.9-4.9 8-4.8-1.8-3.1-8.1 4.8-7.9 5-7.9 4.7-8.2 4.3-8.3 3.7-8.7 3.3-8.7 3.1-8.8 3.4-8.5 4-8.2 4.7-7.9 5.5-7.6 5.8-7.5 5.7-7.7 5.1-7.9 4.6-8.3 4.2zM124.7 1482.9l7.5-5.8 7.6-5.7 7.7-5.4 7.8-5.3 7.8-5.2 7.8-5.2 7.9-5.2 7.8-5.1 8-4.5 8.4-3.8-1.5-3.3-8.5 3.9-8.2 4.7-8 5-7.9 5.3-7.8 5.2-7.8 5.2-7.9 5.3-7.7 5.5-7.7 5.7-7.5 5.8zM202.8 1431.7l8.5-2.8 8.9-1.9 9.3-1.1 9.5-.9 9.5-1.1 9.3-1.9 8.9-3 8.2-4.3 7.7-5.4 7.4-6 7.1-6.1 7.3-5.6 7.5-4.9 7.9-3.9 8.4-3.2 8.6-2.8 8.7-2.7 8.6-3.2 8.4-3.8 8.1-4.4 7.8-4.8-1.9-3.1-7.7 4.8-7.9 4.3-8.1 3.7-8.4 3-8.7 2.8-8.7 2.8-8.6 3.3-8.3 4.1-7.8 5-7.5 5.8-7.2 6.1-7.1 5.9-7.4 5.2-7.8 4.1-8.4 2.8-8.9 1.8-9.3 1.1-9.6 .9-9.5 1.2-9.2 1.9-8.7 2.9zM133.4 1504.9l7.1-7.4 7.2-6.9 6.5-7.3-.1-.2-8.8 4.8-7.4 7.1-7.1 7.4zM174.9 1472.3l6.8-2 6.8-1.9 6.8-2 6.8-2.1 6.7-2.1 6.6-2.4 6.7-2.3 6.7-2.1 6.8-1.7 7-1.5 7.1-1.2 7.2-.9 7.4-1 7.2-1.1 7.2-1.6 6.9-2.1 6.7-2.9 6.3-3.7 5.9-4.6 5.4-5.4 5-5.8 4.9-6 4.9-5.8 5.1-5.3-.2-.2-5.8 4.7-5.5 5.3-5.4 5.5-5.4 5.3-5.4 5-5.5 4.3-5.9 3.5-6.3 2.7-6.6 2-6.9 1.5-7.2 1.1-7.2 1-7.3 1-7.3 1.2-7.1 1.4-7 1.9-6.9 2.1-6.7 2.3-6.6 2.4-6.6 2.6-6.6 2.6-6.6 2.6-6.5 2.6-6.5 2.8zM174.9 1472.3l6.6-2.4 6.7-2.4 6.5-2.5 6.6-2.7 6.4-2.9 6.4-3 6.3-2.9 6.5-2.7 6.5-2.4 6.7-2 6.9-1.6 7.1-1.4 7.1-1.3 7.1-1.5 7-1.8 6.9-2.2 6.6-3 6.3-3.4 6.1-3.9 5.8-4.2 5.7-4.4 5.7-4.4 5.7-4.3 5.7-4.2-.1-.2-6.3 3.4-6.1 3.7-6.1 3.9-6 3.9-6 3.8-5.9 3.8-6.1 3.3-6.3 2.8-6.6 2.2-6.8 1.7-7 1.4-7.1 1.3-7.2 1.5-7 1.7-6.9 2-6.7 2.4-6.6 2.8-6.4 2.9-6.4 3.1-6.3 3.2-6.2 3.2-6.3 3.1-6.3 3.1-6.3 3.2zM357.4 1390.6l9.2-1.8 8.6-3.5 8.5-3.7-1.4-3.3-8.5 3.7-8.5 3.4-8 4.9zM144.2 1521.9l6.8-7.2 7-6.6 7.4-5.6 7.8-4.4 8.4-3.3 8.9-2.5 9.1-2 9.3-2 9.2-2.3 9-2.7 8.8-3 8.7-3 8.8-3 8.9-2.6 9-2.4 9-2.5 9-2.9 8.6-3.6-1.4-3.3-8.4 3.5-8.8 2.9-9 2.4-9 2.4-9 2.7-8.8 2.9-8.8 3.1-8.7 3-8.9 2.6-9 2.3-9.2 2-9.3 2-9.1 2.6-8.8 3.4-8.3 4.7-7.7 5.9-7.2 6.8-6.9 7.3zM298.1 1460.2l8-4.6 7.7-5.7 7.2-6.4 6.9-6.8 7-6.6 7.1-6 7.5-5 8-3.9 8.4-3 8.8-2.4 9-2.2-.8-3.5-9.1 2.2-8.9 2.5-8.8 3.1-8.4 4.1-7.9 5.2-7.3 6.2-7.1 6.7-6.9 6.8-7 6.3-7.4 5.4-7.8 4.5zM169 1536.5l8.6-3 8.9-2.2 9.2-1.6 9.3-1.5 9.4-1.7 9.1-2.5 8.7-3.3 8.3-4.4 7.8-5.1 7.6-5.5 7.5-5.4 7.8-4.7 8-4.1 8.4-3.3 8.6-2.9 8.8-3 8.6-3.5 8.2-4.5 7.8-5.4 7.4-6.1 7.1-6.3 7.3-5.6 7.7-4.6 8.3-3 9-1.5 9.8-.4-.2-3.6-9.9 .4-9.6 1.6-8.9 3.3-8.2 4.8-7.6 5.9-7.2 6.2-7.2 6-7.5 5.3-7.9 4.2-8.3 3.5-8.6 2.9-8.8 2.9-8.6 3.4-8.3 4.2-7.9 4.9-7.7 5.4-7.5 5.5-7.7 5-7.9 4.2-8.3 3.2-8.8 2.4-9.2 1.7-9.3 1.4-9.4 1.7-9.1 2.3-8.8 3zM214 1546.9l9.1-1.7 9.4-1.3-.5-3.5-9.4 1.2-9.3 1.8zM232.4 1543.9l9.7-1.1 9.6-1.7 9.2-2.5 8.7-3.9 8.1-5.1 7.6-6.1 7.2-6.7 7.1-6.7 7.2-6.2 7.5-5.5 7.9-4.7 8.2-4.1 8.4-3.7 8.5-3.5 8.6-3.7 8.4-3.6 8.6-3.5-1.4-3.4-8.5 3.6-8.6 3.6-8.5 3.6-8.5 3.6-8.5 3.8-8.4 4.2-8.2 4.8-7.7 5.7-7.4 6.4-7.2 6.7-7.1 6.6-7.3 5.9-7.7 4.9-8.2 3.6-8.8 2.4-9.3 1.6-9.6 1.2zM304.4 1537.3l6.9-6.6 7.3-5.5 7.8-4.3 8.5-3.2-1.3-3.4-8.7 3.3-8.3 4.5-7.6 5.8-7.1 6.8z"/>
</g>
<circle cx="247" cy="1419" r="129.6" fill="none" stroke="#e4e4e4" stroke-width="1.4"/>
<g fill="none" stroke="#000" stroke-width="3.4" stroke-linejoin="miter" stroke-miterlimit="10">
<path d="M211.9,1296.9L1724.7,862.1A107.5,109 0 0 1 1817.7,1054.8L1818.7,1056.4L2385,1062L990,1546L247,1546"/>
<path d="M1818.7,1056.4L285.3,1540.1"/>
<circle cx="247" cy="1419" r="127"/>
</g>
<g fill="none" stroke="#d21d2a" stroke-width="3.1" stroke-linejoin="miter">
<path d="M738,1092.7L201,1241.5M216.2,1250.1L201,1241.5L209.6,1226.3"/>
<path d="M1210,961.9L1698.6,826.5M1683.4,817.9L1698.6,826.5L1690,841.7"/>
</g>
<g font-size="52.8" stroke="#fff" stroke-width="0.8" transform="matrix(0.9655 -0.2605 0.0593 0.9982 777 1093)">
<text x="-5" y="0" letter-spacing="3.77">Long</text>
<text x="137.1" y="0" letter-spacing="5.33">Band</text>
<text x="289.9" y="0" letter-spacing="3.97">Bend</text>
</g>
<text transform="matrix(1.12 0 0 1 1712 1386.6)" font-size="51.2" font-style="italic" stroke="#fff" stroke-width="0.8">2400</text>
<text transform="matrix(1.2 0 0 1 1853 1387)" font-size="50.5" letter-spacing="4" font-style="italic" stroke="#fff" stroke-width="0.5">mm</text>
<text x="453" y="1647" font-size="50.5" letter-spacing="-1.07" font-style="italic">1200</text>
<text transform="matrix(1.2 0 0 1 576 1647)" font-size="50.5" letter-spacing="4" font-style="italic" stroke="#fff" stroke-width="0.5">mm</text>
<g stroke="#fff" stroke-width="1.4" font-size="84.5">
<text x="966.7" y="2015" letter-spacing="8.1">LONG</text>
<text x="1263" y="2015" letter-spacing="13">BAND</text>
<text x="773" y="2115" letter-spacing="9.5">BENDING</text>
<text x="1248" y="2115" letter-spacing="9.3">PLYWOOD</text>
</g>
</svg>
</body></html>
